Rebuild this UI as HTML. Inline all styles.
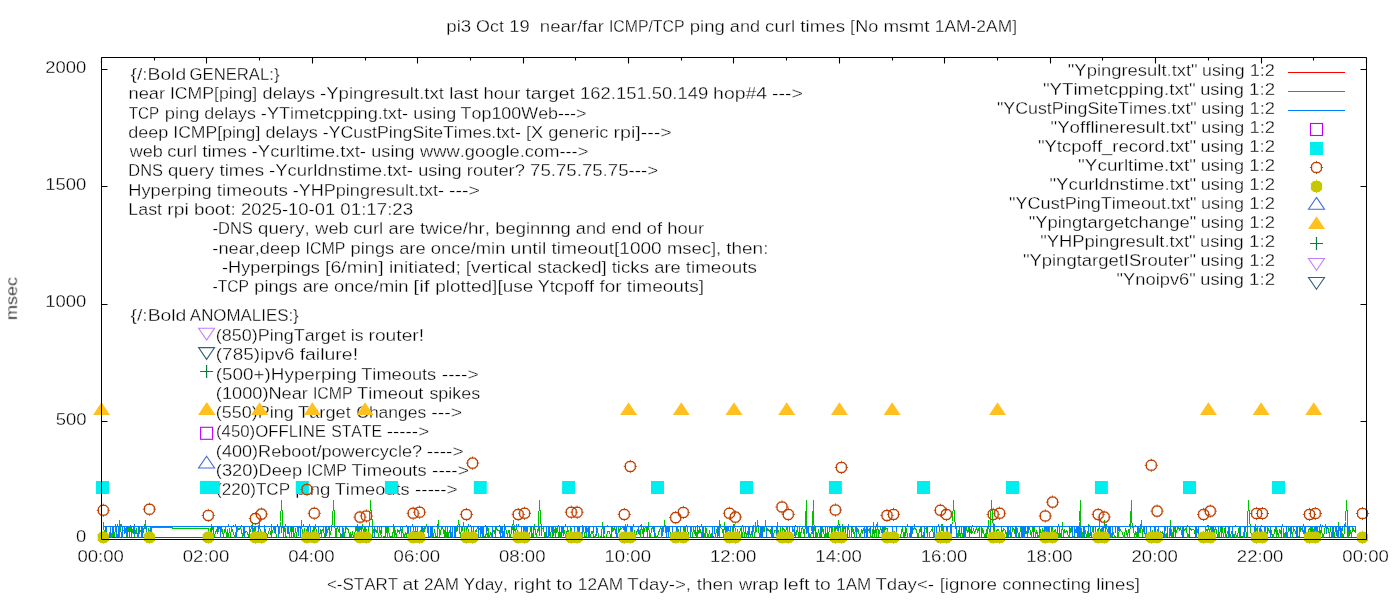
<!DOCTYPE html>
<html><head><meta charset="utf-8"><style>
html,body{margin:0;padding:0;background:#fff;width:1400px;height:600px;overflow:hidden}
svg{display:block}
text{font-family:"Liberation Sans", sans-serif;font-size:16.8px;fill:#000;stroke:#fff;stroke-width:0.3px;white-space:pre;font-kerning:none;font-variant-ligatures:none}
</style></head><body>
<svg width="1400" height="600" viewBox="0 0 1400 600">
<rect width="1400" height="600" fill="#fff"/>
<g id="texts" style="will-change:transform">
<text x="446.30" y="32.00" textLength="24.89" lengthAdjust="spacingAndGlyphs">pi3</text>
<text x="476.10" y="32.00" textLength="27.79" lengthAdjust="spacingAndGlyphs">Oct</text>
<text x="509.30" y="32.00" textLength="20.45" lengthAdjust="spacingAndGlyphs">19</text>
<text x="539.82" y="32.00" textLength="64.05" lengthAdjust="spacingAndGlyphs">near/far</text>
<text x="608.88" y="32.00" textLength="75.66" lengthAdjust="spacingAndGlyphs">ICMP/TCP</text>
<text x="689.79" y="32.00" textLength="35.05" lengthAdjust="spacingAndGlyphs">ping</text>
<text x="729.89" y="32.00" textLength="30.23" lengthAdjust="spacingAndGlyphs">and</text>
<text x="765.13" y="32.00" textLength="30.09" lengthAdjust="spacingAndGlyphs">curl</text>
<text x="800.38" y="32.00" textLength="44.68" lengthAdjust="spacingAndGlyphs">times</text>
<text x="850.12" y="32.00" textLength="28.12" lengthAdjust="spacingAndGlyphs">[No</text>
<text x="883.46" y="32.00" textLength="45.98" lengthAdjust="spacingAndGlyphs">msmt</text>
<text x="934.78" y="32.00" textLength="82.24" lengthAdjust="spacingAndGlyphs">1AM-2AM]</text>
<text x="76.08" y="542.10" textLength="10.26" lengthAdjust="spacingAndGlyphs">0</text>
<text x="55.72" y="424.76" textLength="30.79" lengthAdjust="spacingAndGlyphs">500</text>
<text x="45.32" y="307.43" textLength="41.05" lengthAdjust="spacingAndGlyphs">1000</text>
<text x="45.32" y="190.09" textLength="41.05" lengthAdjust="spacingAndGlyphs">1500</text>
<text x="45.20" y="72.76" textLength="41.05" lengthAdjust="spacingAndGlyphs">2000</text>
<text x="77.40" y="562.00" textLength="46.48" lengthAdjust="spacingAndGlyphs">00:00</text>
<text x="182.81" y="562.00" textLength="46.48" lengthAdjust="spacingAndGlyphs">02:00</text>
<text x="288.23" y="562.00" textLength="46.48" lengthAdjust="spacingAndGlyphs">04:00</text>
<text x="393.64" y="562.00" textLength="46.48" lengthAdjust="spacingAndGlyphs">06:00</text>
<text x="499.06" y="562.00" textLength="46.48" lengthAdjust="spacingAndGlyphs">08:00</text>
<text x="604.50" y="562.00" textLength="46.48" lengthAdjust="spacingAndGlyphs">10:00</text>
<text x="709.91" y="562.00" textLength="46.48" lengthAdjust="spacingAndGlyphs">12:00</text>
<text x="815.33" y="562.00" textLength="46.48" lengthAdjust="spacingAndGlyphs">14:00</text>
<text x="920.74" y="562.00" textLength="46.48" lengthAdjust="spacingAndGlyphs">16:00</text>
<text x="1026.16" y="562.00" textLength="46.48" lengthAdjust="spacingAndGlyphs">18:00</text>
<text x="1131.47" y="562.00" textLength="46.48" lengthAdjust="spacingAndGlyphs">20:00</text>
<text x="1236.88" y="562.00" textLength="46.48" lengthAdjust="spacingAndGlyphs">22:00</text>
<text x="1342.39" y="562.00" textLength="46.48" lengthAdjust="spacingAndGlyphs">00:00</text>
<text x="326.96" y="589.70" textLength="71.20" lengthAdjust="spacingAndGlyphs">&lt;-START</text>
<text x="402.55" y="589.70" textLength="16.14" lengthAdjust="spacingAndGlyphs">at</text>
<text x="423.97" y="589.70" textLength="35.06" lengthAdjust="spacingAndGlyphs">2AM</text>
<text x="463.40" y="589.70" textLength="44.45" lengthAdjust="spacingAndGlyphs">Yday,</text>
<text x="513.54" y="589.70" textLength="37.73" lengthAdjust="spacingAndGlyphs">right</text>
<text x="556.34" y="589.70" textLength="16.12" lengthAdjust="spacingAndGlyphs">to</text>
<text x="577.87" y="589.70" textLength="45.27" lengthAdjust="spacingAndGlyphs">12AM</text>
<text x="627.34" y="589.70" textLength="63.70" lengthAdjust="spacingAndGlyphs">Tday-&gt;,</text>
<text x="696.76" y="589.70" textLength="36.53" lengthAdjust="spacingAndGlyphs">then</text>
<text x="738.95" y="589.70" textLength="39.77" lengthAdjust="spacingAndGlyphs">wrap</text>
<text x="783.31" y="589.70" textLength="26.29" lengthAdjust="spacingAndGlyphs">left</text>
<text x="814.66" y="589.70" textLength="16.12" lengthAdjust="spacingAndGlyphs">to</text>
<text x="836.21" y="589.70" textLength="35.06" lengthAdjust="spacingAndGlyphs">1AM</text>
<text x="875.44" y="589.70" textLength="58.60" lengthAdjust="spacingAndGlyphs">Tday&lt;-</text>
<text x="939.65" y="589.70" textLength="57.40" lengthAdjust="spacingAndGlyphs">[ignore</text>
<text x="1002.22" y="589.70" textLength="88.85" lengthAdjust="spacingAndGlyphs">connecting</text>
<text x="1096.32" y="589.70" textLength="43.61" lengthAdjust="spacingAndGlyphs">lines]</text>
<text x="0" y="0" text-anchor="middle" textLength="42.91" lengthAdjust="spacingAndGlyphs" transform="translate(17.2,298.5) rotate(-90)">msec</text>
<text x="130.48" y="80.00" textLength="55.63" lengthAdjust="spacingAndGlyphs">{/:Bold</text>
<text x="189.52" y="80.00" textLength="90.00" lengthAdjust="spacingAndGlyphs">GENERAL:}</text>
<text x="128.48" y="99.29" textLength="36.62" lengthAdjust="spacingAndGlyphs">near</text>
<text x="169.93" y="99.29" textLength="87.34" lengthAdjust="spacingAndGlyphs">ICMP[ping]</text>
<text x="262.57" y="99.29" textLength="52.42" lengthAdjust="spacingAndGlyphs">delays</text>
<text x="319.94" y="99.29" textLength="124.03" lengthAdjust="spacingAndGlyphs">-Ypingresult.txt</text>
<text x="449.39" y="99.29" textLength="29.06" lengthAdjust="spacingAndGlyphs">last</text>
<text x="483.50" y="99.29" textLength="36.91" lengthAdjust="spacingAndGlyphs">hour</text>
<text x="525.49" y="99.29" textLength="49.27" lengthAdjust="spacingAndGlyphs">target</text>
<text x="580.11" y="99.29" textLength="128.13" lengthAdjust="spacingAndGlyphs">162.151.50.149</text>
<text x="713.11" y="99.29" textLength="54.05" lengthAdjust="spacingAndGlyphs">hop#4</text>
<text x="772.08" y="99.29" textLength="30.94" lengthAdjust="spacingAndGlyphs">---&gt;</text>
<text x="128.66" y="118.57" textLength="30.37" lengthAdjust="spacingAndGlyphs">TCP</text>
<text x="164.73" y="118.57" textLength="34.64" lengthAdjust="spacingAndGlyphs">ping</text>
<text x="204.29" y="118.57" textLength="51.68" lengthAdjust="spacingAndGlyphs">delays</text>
<text x="260.85" y="118.57" textLength="147.12" lengthAdjust="spacingAndGlyphs">-YTimetcpping.txt-</text>
<text x="413.23" y="118.57" textLength="42.90" lengthAdjust="spacingAndGlyphs">using</text>
<text x="460.55" y="118.57" textLength="125.88" lengthAdjust="spacingAndGlyphs">Top100Web---&gt;</text>
<text x="128.24" y="137.86" textLength="40.13" lengthAdjust="spacingAndGlyphs">deep</text>
<text x="173.29" y="137.86" textLength="87.00" lengthAdjust="spacingAndGlyphs">ICMP[ping]</text>
<text x="265.57" y="137.86" textLength="52.22" lengthAdjust="spacingAndGlyphs">delays</text>
<text x="322.76" y="137.86" textLength="198.06" lengthAdjust="spacingAndGlyphs">-YCustPingSiteTimes.txt-</text>
<text x="525.99" y="137.86" textLength="17.26" lengthAdjust="spacingAndGlyphs">[X</text>
<text x="548.39" y="137.86" textLength="59.99" lengthAdjust="spacingAndGlyphs">generic</text>
<text x="613.52" y="137.86" textLength="58.33" lengthAdjust="spacingAndGlyphs">rpi]---&gt;</text>
<text x="129.73" y="157.14" textLength="33.05" lengthAdjust="spacingAndGlyphs">web</text>
<text x="167.25" y="157.14" textLength="29.92" lengthAdjust="spacingAndGlyphs">curl</text>
<text x="202.31" y="157.14" textLength="44.43" lengthAdjust="spacingAndGlyphs">times</text>
<text x="251.63" y="157.14" textLength="114.39" lengthAdjust="spacingAndGlyphs">-Ycurltime.txt-</text>
<text x="371.33" y="157.14" textLength="43.17" lengthAdjust="spacingAndGlyphs">using</text>
<text x="420.09" y="157.14" textLength="168.30" lengthAdjust="spacingAndGlyphs">www.google.com---&gt;</text>
<text x="128.36" y="176.43" textLength="34.61" lengthAdjust="spacingAndGlyphs">DNS</text>
<text x="167.95" y="176.43" textLength="46.40" lengthAdjust="spacingAndGlyphs">query</text>
<text x="219.50" y="176.43" textLength="44.69" lengthAdjust="spacingAndGlyphs">times</text>
<text x="269.11" y="176.43" textLength="143.83" lengthAdjust="spacingAndGlyphs">-Ycurldnstime.txt-</text>
<text x="418.27" y="176.43" textLength="43.42" lengthAdjust="spacingAndGlyphs">using</text>
<text x="466.86" y="176.43" textLength="57.96" lengthAdjust="spacingAndGlyphs">router?</text>
<text x="530.05" y="176.43" textLength="128.01" lengthAdjust="spacingAndGlyphs">75.75.75.75---&gt;</text>
<text x="128.20" y="195.72" textLength="83.38" lengthAdjust="spacingAndGlyphs">Hyperping</text>
<text x="216.76" y="195.72" textLength="71.03" lengthAdjust="spacingAndGlyphs">timeouts</text>
<text x="292.74" y="195.72" textLength="151.36" lengthAdjust="spacingAndGlyphs">-YHPpingresult.txt-</text>
<text x="449.14" y="195.72" textLength="30.88" lengthAdjust="spacingAndGlyphs">---&gt;</text>
<text x="128.29" y="215.00" textLength="33.75" lengthAdjust="spacingAndGlyphs">Last</text>
<text x="167.25" y="215.00" textLength="21.45" lengthAdjust="spacingAndGlyphs">rpi</text>
<text x="193.91" y="215.00" textLength="41.92" lengthAdjust="spacingAndGlyphs">boot:</text>
<text x="240.99" y="215.00" textLength="94.16" lengthAdjust="spacingAndGlyphs">2025-10-01</text>
<text x="340.37" y="215.00" textLength="72.77" lengthAdjust="spacingAndGlyphs">01:17:23</text>
<text x="212.46" y="234.29" textLength="40.45" lengthAdjust="spacingAndGlyphs">-DNS</text>
<text x="258.09" y="234.29" textLength="51.57" lengthAdjust="spacingAndGlyphs">query,</text>
<text x="315.37" y="234.29" textLength="33.28" lengthAdjust="spacingAndGlyphs">web</text>
<text x="353.15" y="234.29" textLength="30.13" lengthAdjust="spacingAndGlyphs">curl</text>
<text x="388.50" y="234.29" textLength="26.38" lengthAdjust="spacingAndGlyphs">are</text>
<text x="419.95" y="234.29" textLength="70.04" lengthAdjust="spacingAndGlyphs">twice/hr,</text>
<text x="495.24" y="234.29" textLength="75.61" lengthAdjust="spacingAndGlyphs">beginnng</text>
<text x="575.89" y="234.29" textLength="30.28" lengthAdjust="spacingAndGlyphs">and</text>
<text x="611.20" y="234.29" textLength="30.32" lengthAdjust="spacingAndGlyphs">end</text>
<text x="646.62" y="234.29" textLength="15.51" lengthAdjust="spacingAndGlyphs">of</text>
<text x="667.32" y="234.29" textLength="36.86" lengthAdjust="spacingAndGlyphs">hour</text>
<text x="212.39" y="253.57" textLength="87.95" lengthAdjust="spacingAndGlyphs">-near,deep</text>
<text x="305.61" y="253.57" textLength="39.67" lengthAdjust="spacingAndGlyphs">ICMP</text>
<text x="350.58" y="253.57" textLength="43.59" lengthAdjust="spacingAndGlyphs">pings</text>
<text x="399.20" y="253.57" textLength="26.44" lengthAdjust="spacingAndGlyphs">are</text>
<text x="430.70" y="253.57" textLength="74.75" lengthAdjust="spacingAndGlyphs">once/min</text>
<text x="510.57" y="253.57" textLength="35.74" lengthAdjust="spacingAndGlyphs">until</text>
<text x="551.48" y="253.57" textLength="110.22" lengthAdjust="spacingAndGlyphs">timeout[1000</text>
<text x="666.92" y="253.57" textLength="54.34" lengthAdjust="spacingAndGlyphs">msec],</text>
<text x="726.29" y="253.57" textLength="42.14" lengthAdjust="spacingAndGlyphs">then:</text>
<text x="222.09" y="272.86" textLength="97.80" lengthAdjust="spacingAndGlyphs">-Hyperpings</text>
<text x="325.03" y="272.86" textLength="58.65" lengthAdjust="spacingAndGlyphs">[6/min]</text>
<text x="389.04" y="272.86" textLength="71.74" lengthAdjust="spacingAndGlyphs">initiated;</text>
<text x="465.69" y="272.86" textLength="66.38" lengthAdjust="spacingAndGlyphs">[vertical</text>
<text x="537.54" y="272.86" textLength="69.22" lengthAdjust="spacingAndGlyphs">stacked]</text>
<text x="611.68" y="272.86" textLength="37.39" lengthAdjust="spacingAndGlyphs">ticks</text>
<text x="654.23" y="272.86" textLength="26.42" lengthAdjust="spacingAndGlyphs">are</text>
<text x="685.73" y="272.86" textLength="71.21" lengthAdjust="spacingAndGlyphs">timeouts</text>
<text x="212.50" y="292.15" textLength="36.50" lengthAdjust="spacingAndGlyphs">-TCP</text>
<text x="254.31" y="292.15" textLength="43.39" lengthAdjust="spacingAndGlyphs">pings</text>
<text x="302.70" y="292.15" textLength="26.32" lengthAdjust="spacingAndGlyphs">are</text>
<text x="334.06" y="292.15" textLength="74.40" lengthAdjust="spacingAndGlyphs">once/min</text>
<text x="413.32" y="292.15" textLength="16.38" lengthAdjust="spacingAndGlyphs">[if</text>
<text x="435.16" y="292.15" textLength="98.10" lengthAdjust="spacingAndGlyphs">plotted][use</text>
<text x="537.70" y="292.15" textLength="56.26" lengthAdjust="spacingAndGlyphs">Ytcpoff</text>
<text x="599.59" y="292.15" textLength="22.08" lengthAdjust="spacingAndGlyphs">for</text>
<text x="626.82" y="292.15" textLength="77.21" lengthAdjust="spacingAndGlyphs">timeouts]</text>
<text x="130.48" y="321.00" textLength="55.91" lengthAdjust="spacingAndGlyphs">{/:Bold</text>
<text x="189.86" y="321.00" textLength="108.91" lengthAdjust="spacingAndGlyphs">ANOMALIES:}</text>
<text x="215.89" y="341.00" textLength="129.76" lengthAdjust="spacingAndGlyphs">(850)PingTarget</text>
<text x="350.80" y="341.00" textLength="12.77" lengthAdjust="spacingAndGlyphs">is</text>
<text x="368.50" y="341.00" textLength="55.58" lengthAdjust="spacingAndGlyphs">router!</text>
<text x="215.83" y="360.25" textLength="78.77" lengthAdjust="spacingAndGlyphs">(785)ipv6</text>
<text x="299.65" y="360.25" textLength="58.41" lengthAdjust="spacingAndGlyphs">failure!</text>
<text x="215.83" y="379.50" textLength="140.93" lengthAdjust="spacingAndGlyphs">(500+)Hyperping</text>
<text x="361.22" y="379.50" textLength="75.00" lengthAdjust="spacingAndGlyphs">Timeouts</text>
<text x="441.75" y="379.50" textLength="36.90" lengthAdjust="spacingAndGlyphs">----&gt;</text>
<text x="215.87" y="398.75" textLength="92.07" lengthAdjust="spacingAndGlyphs">(1000)Near</text>
<text x="312.93" y="398.75" textLength="39.63" lengthAdjust="spacingAndGlyphs">ICMP</text>
<text x="357.11" y="398.75" textLength="66.34" lengthAdjust="spacingAndGlyphs">Timeout</text>
<text x="429.41" y="398.75" textLength="50.76" lengthAdjust="spacingAndGlyphs">spikes</text>
<text x="215.89" y="418.00" textLength="77.78" lengthAdjust="spacingAndGlyphs">(550)Ping</text>
<text x="298.05" y="418.00" textLength="52.68" lengthAdjust="spacingAndGlyphs">Target</text>
<text x="356.31" y="418.00" textLength="69.92" lengthAdjust="spacingAndGlyphs">Changes</text>
<text x="431.25" y="418.00" textLength="30.87" lengthAdjust="spacingAndGlyphs">---&gt;</text>
<text x="215.96" y="437.25" textLength="110.07" lengthAdjust="spacingAndGlyphs">(450)OFFLINE</text>
<text x="331.13" y="437.25" textLength="50.91" lengthAdjust="spacingAndGlyphs">STATE</text>
<text x="386.75" y="437.25" textLength="42.40" lengthAdjust="spacingAndGlyphs">-----&gt;</text>
<text x="215.88" y="456.50" textLength="206.20" lengthAdjust="spacingAndGlyphs">(400)Reboot/powercycle?</text>
<text x="426.87" y="456.50" textLength="36.77" lengthAdjust="spacingAndGlyphs">----&gt;</text>
<text x="215.87" y="475.75" textLength="86.22" lengthAdjust="spacingAndGlyphs">(320)Deep</text>
<text x="307.09" y="475.75" textLength="39.82" lengthAdjust="spacingAndGlyphs">ICMP</text>
<text x="351.48" y="475.75" textLength="75.09" lengthAdjust="spacingAndGlyphs">Timeouts</text>
<text x="432.11" y="475.75" textLength="36.94" lengthAdjust="spacingAndGlyphs">----&gt;</text>
<text x="215.94" y="495.00" textLength="74.19" lengthAdjust="spacingAndGlyphs">(220)TCP</text>
<text x="295.19" y="495.00" textLength="35.17" lengthAdjust="spacingAndGlyphs">ping</text>
<text x="334.77" y="495.00" textLength="74.76" lengthAdjust="spacingAndGlyphs">Timeouts</text>
<text x="415.05" y="495.00" textLength="42.60" lengthAdjust="spacingAndGlyphs">-----&gt;</text>
<text x="1067.82" y="76.00" textLength="129.82" lengthAdjust="spacingAndGlyphs">&quot;Ypingresult.txt&quot;</text>
<text x="1202.09" y="76.00" textLength="42.47" lengthAdjust="spacingAndGlyphs">using</text>
<text x="1249.71" y="76.00" textLength="25.30" lengthAdjust="spacingAndGlyphs">1:2</text>
<text x="1042.90" y="95.00" textLength="152.72" lengthAdjust="spacingAndGlyphs">&quot;YTimetcpping.txt&quot;</text>
<text x="1200.19" y="95.00" textLength="43.61" lengthAdjust="spacingAndGlyphs">using</text>
<text x="1249.09" y="95.00" textLength="25.98" lengthAdjust="spacingAndGlyphs">1:2</text>
<text x="996.94" y="114.00" textLength="199.73" lengthAdjust="spacingAndGlyphs">&quot;YCustPingSiteTimes.txt&quot;</text>
<text x="1201.15" y="114.00" textLength="43.03" lengthAdjust="spacingAndGlyphs">using</text>
<text x="1249.40" y="114.00" textLength="25.64" lengthAdjust="spacingAndGlyphs">1:2</text>
<text x="1050.51" y="133.00" textLength="146.26" lengthAdjust="spacingAndGlyphs">&quot;Yofflineresult.txt&quot;</text>
<text x="1201.27" y="133.00" textLength="42.96" lengthAdjust="spacingAndGlyphs">using</text>
<text x="1249.44" y="133.00" textLength="25.60" lengthAdjust="spacingAndGlyphs">1:2</text>
<text x="1037.91" y="152.00" textLength="158.15" lengthAdjust="spacingAndGlyphs">&quot;Ytcpoff_record.txt&quot;</text>
<text x="1200.59" y="152.00" textLength="43.36" lengthAdjust="spacingAndGlyphs">using</text>
<text x="1249.22" y="152.00" textLength="25.84" lengthAdjust="spacingAndGlyphs">1:2</text>
<text x="1078.09" y="171.00" textLength="118.01" lengthAdjust="spacingAndGlyphs">&quot;Ycurltime.txt&quot;</text>
<text x="1200.65" y="171.00" textLength="43.33" lengthAdjust="spacingAndGlyphs">using</text>
<text x="1249.24" y="171.00" textLength="25.82" lengthAdjust="spacingAndGlyphs">1:2</text>
<text x="1049.40" y="190.00" textLength="146.71" lengthAdjust="spacingAndGlyphs">&quot;Ycurldnstime.txt&quot;</text>
<text x="1200.65" y="190.00" textLength="43.33" lengthAdjust="spacingAndGlyphs">using</text>
<text x="1249.24" y="190.00" textLength="25.82" lengthAdjust="spacingAndGlyphs">1:2</text>
<text x="1009.13" y="209.00" textLength="187.36" lengthAdjust="spacingAndGlyphs">&quot;YCustPingTimeout.txt&quot;</text>
<text x="1200.99" y="209.00" textLength="43.13" lengthAdjust="spacingAndGlyphs">using</text>
<text x="1249.35" y="209.00" textLength="25.70" lengthAdjust="spacingAndGlyphs">1:2</text>
<text x="1028.72" y="228.00" textLength="167.48" lengthAdjust="spacingAndGlyphs">&quot;Ypingtargetchange&quot;</text>
<text x="1200.71" y="228.00" textLength="43.29" lengthAdjust="spacingAndGlyphs">using</text>
<text x="1249.26" y="228.00" textLength="25.79" lengthAdjust="spacingAndGlyphs">1:2</text>
<text x="1040.22" y="247.00" textLength="155.34" lengthAdjust="spacingAndGlyphs">&quot;YHPpingresult.txt&quot;</text>
<text x="1200.11" y="247.00" textLength="43.65" lengthAdjust="spacingAndGlyphs">using</text>
<text x="1249.06" y="247.00" textLength="26.01" lengthAdjust="spacingAndGlyphs">1:2</text>
<text x="1022.92" y="266.00" textLength="173.09" lengthAdjust="spacingAndGlyphs">&quot;YpingtargetISrouter&quot;</text>
<text x="1200.54" y="266.00" textLength="43.39" lengthAdjust="spacingAndGlyphs">using</text>
<text x="1249.20" y="266.00" textLength="25.85" lengthAdjust="spacingAndGlyphs">1:2</text>
<text x="1116.52" y="285.00" textLength="79.25" lengthAdjust="spacingAndGlyphs">&quot;Ynoipv6&quot;</text>
<text x="1200.31" y="285.00" textLength="43.53" lengthAdjust="spacingAndGlyphs">using</text>
<text x="1249.12" y="285.00" textLength="25.94" lengthAdjust="spacingAndGlyphs">1:2</text>
</g>
<g id="legend">
<path d="M1288 72.5H1345" stroke="#ff0000" stroke-width="1"/>
<path d="M1288 91.5H1345" stroke="#00c000" stroke-width="1"/>
<path d="M1288 110.5H1345" stroke="#0080ff" stroke-width="1"/>
<rect x="1310.50" y="123.50" width="12" height="12" fill="none" stroke="#c000ff" stroke-width="1.1"/>
<rect x="1310.00" y="142.00" width="13" height="13" fill="#00eeee"/>
<polygon points="1314.10,162.60 1318.90,162.60 1321.40,165.10 1321.40,169.90 1318.90,172.40 1314.10,172.40 1311.60,169.90 1311.60,165.10" fill="none" stroke="#c04000" stroke-width="1.25"/><path d="M1316.50 160.90v1.6M1316.50 172.50v1.6M1309.90 167.50h1.6M1321.50 167.50h1.6" stroke="#c04000" stroke-width="1"/>
<polygon points="1313.60,180.90 1319.40,180.90 1322.10,183.60 1322.10,189.40 1319.40,192.10 1313.60,192.10 1310.90,189.40 1310.90,183.60" fill="#c8c800"/><path d="M1316.50 179.90v1.4M1316.50 191.70v1.4" stroke="#c8c800" stroke-width="1"/>
<polygon points="1316.50,197.40 1324.50,209.20 1308.50,209.20" fill="none" stroke="#4169e1" stroke-width="1.1"/>
<polygon points="1316.50,216.20 1325.00,229.00 1308.00,229.00" fill="#ffc020"/>
<path d="M1310.00 243.50h13M1316.50 237.00v13" stroke="#008040" stroke-width="1.2"/>
<polygon points="1316.50,270.30 1324.50,258.50 1308.50,258.50" fill="none" stroke="#c080ff" stroke-width="1.1"/>
<polygon points="1316.50,289.30 1324.50,277.50 1308.50,277.50" fill="none" stroke="#306080" stroke-width="1.1"/>
<polygon points="206.60,340.10 214.60,328.30 198.60,328.30" fill="none" stroke="#c080ff" stroke-width="1.1"/>
<polygon points="206.60,359.40 214.60,347.60 198.60,347.60" fill="none" stroke="#306080" stroke-width="1.1"/>
<path d="M200.10 371.50h13M206.60 365.00v13" stroke="#008040" stroke-width="1.2"/>
<polygon points="206.60,402.20 215.10,415.00 198.10,415.00" fill="#ffc020"/>
<rect x="200.60" y="427.30" width="12" height="12" fill="none" stroke="#c000ff" stroke-width="1.1"/>
<polygon points="206.60,456.20 214.60,468.00 198.60,468.00" fill="none" stroke="#4169e1" stroke-width="1.1"/>
<rect x="200.10" y="480.90" width="13" height="13" fill="#00eeee"/>
</g>
<g id="ticks">
<path d="M101.5 538.5h6M1366.5 538.5h-6M101.5 421.5h6M1366.5 421.5h-6M101.5 304.5h6M1366.5 304.5h-6M101.5 186.5h6M1366.5 186.5h-6M101.5 69.5h6M1366.5 69.5h-6M101.5 57.5v6M101.5 539.5v-6M154.5 57.5v3M154.5 539.5v-3M206.5 57.5v6M206.5 539.5v-6M259.5 57.5v3M259.5 539.5v-3M312.5 57.5v6M312.5 539.5v-6M365.5 57.5v3M365.5 539.5v-3M417.5 57.5v6M417.5 539.5v-6M470.5 57.5v3M470.5 539.5v-3M523.5 57.5v6M523.5 539.5v-6M575.5 57.5v3M575.5 539.5v-3M628.5 57.5v6M628.5 539.5v-6M681.5 57.5v3M681.5 539.5v-3M733.5 57.5v6M733.5 539.5v-6M786.5 57.5v3M786.5 539.5v-3M839.5 57.5v6M839.5 539.5v-6M892.5 57.5v3M892.5 539.5v-3M944.5 57.5v6M944.5 539.5v-6M997.5 57.5v3M997.5 539.5v-3M1050.5 57.5v6M1050.5 539.5v-6M1102.5 57.5v3M1102.5 539.5v-3M1155.5 57.5v6M1155.5 539.5v-6M1208.5 57.5v3M1208.5 539.5v-3M1261.5 57.5v6M1261.5 539.5v-6M1313.5 57.5v3M1313.5 539.5v-3M1366.5 57.5v6M1366.5 539.5v-6" stroke="#000" stroke-width="1.1" fill="none"/>
</g>
<g id="data">
<path d="M104.1 537.5H1358.6" stroke="#ff0000" stroke-width="1" fill="none" shape-rendering="crispEdges"/>
<polyline points="103.5,522.5 104.5,536.5 105.5,530.5 105.5,528.5 106.5,536.5 107.5,537.5 108.5,536.5 109.5,536.5 110.5,527.5 111.5,537.5 112.5,536.5 112.5,531.5 113.5,530.5 114.5,536.5 115.5,527.5 116.5,532.5 117.5,536.5 118.5,536.5 119.5,537.5 119.5,520.5 120.5,527.5 121.5,536.5 122.5,529.5 123.5,530.5 124.5,531.5 125.5,529.5 126.5,536.5 126.5,527.5 127.5,536.5 128.5,527.5 129.5,530.5 130.5,527.5 131.5,536.5 132.5,529.5 133.5,530.5 134.5,527.5 134.5,536.5 135.5,531.5 136.5,529.5 137.5,537.5 138.5,528.5 139.5,532.5 140.5,530.5 141.5,529.5 141.5,536.5 142.5,536.5 143.5,529.5 144.5,527.5 145.5,520.5 146.5,537.5 147.5,536.5 148.5,536.5 148.5,528.5 149.5,531.5 150.5,537.5 151.5,527.5 172.5,527.5 172.5,528.5 207.5,528.5 208.5,528.5 209.5,536.5 210.5,532.5 211.5,524.5 212.5,527.5 213.5,531.5 213.5,536.5 214.5,536.5 215.5,532.5 216.5,530.5 217.5,527.5 218.5,530.5 219.5,527.5 220.5,530.5 220.5,537.5 221.5,527.5 222.5,531.5 223.5,536.5 224.5,530.5 225.5,527.5 226.5,536.5 227.5,537.5 227.5,529.5 228.5,537.5 229.5,528.5 230.5,536.5 231.5,527.5 232.5,531.5 233.5,532.5 234.5,537.5 235.5,532.5 235.5,536.5 236.5,536.5 237.5,527.5 238.5,529.5 239.5,529.5 240.5,527.5 241.5,530.5 242.5,536.5 242.5,536.5 243.5,529.5 244.5,530.5 245.5,532.5 246.5,531.5 247.5,532.5 248.5,536.5 249.5,536.5 249.5,532.5 250.5,531.5 251.5,527.5 252.5,522.5 253.5,532.5 254.5,527.5 255.5,536.5 256.5,536.5 256.5,537.5 257.5,531.5 258.5,530.5 259.5,520.5 260.5,536.5 261.5,532.5 262.5,537.5 263.5,536.5 264.5,530.5 264.5,536.5 265.5,529.5 266.5,536.5 267.5,536.5 268.5,532.5 269.5,529.5 270.5,532.5 271.5,536.5 271.5,527.5 272.5,532.5 273.5,527.5 274.5,528.5 275.5,531.5 276.5,536.5 277.5,537.5 278.5,536.5 278.5,536.5 279.5,532.5 280.5,521.5 281.5,500.5 282.5,518.5 283.5,536.5 284.5,527.5 285.5,529.5 285.5,536.5 286.5,536.5 287.5,537.5 288.5,537.5 289.5,536.5 290.5,527.5 291.5,536.5 292.5,527.5 293.5,536.5 293.5,531.5 294.5,537.5 295.5,528.5 296.5,536.5 297.5,527.5 298.5,528.5 299.5,527.5 300.5,527.5 300.5,536.5 301.5,520.5 302.5,537.5 303.5,536.5 304.5,528.5 305.5,537.5 306.5,531.5 307.5,527.5 307.5,536.5 308.5,536.5 309.5,536.5 310.5,529.5 311.5,537.5 312.5,530.5 313.5,529.5 314.5,536.5 314.5,528.5 315.5,524.5 316.5,532.5 317.5,536.5 318.5,536.5 319.5,537.5 320.5,529.5 321.5,537.5 321.5,530.5 322.5,530.5 323.5,528.5 324.5,536.5 325.5,536.5 326.5,528.5 327.5,531.5 328.5,527.5 329.5,532.5 329.5,536.5 330.5,532.5 331.5,529.5 332.5,521.5 333.5,500.5 334.5,518.5 335.5,536.5 336.5,536.5 336.5,528.5 337.5,527.5 338.5,530.5 339.5,528.5 340.5,536.5 341.5,536.5 342.5,531.5 343.5,536.5 343.5,528.5 344.5,536.5 345.5,527.5 346.5,527.5 347.5,529.5 348.5,529.5 349.5,536.5 350.5,532.5 350.5,536.5 351.5,537.5 352.5,531.5 353.5,537.5 354.5,536.5 355.5,527.5 356.5,530.5 357.5,524.5 358.5,536.5 358.5,536.5 359.5,532.5 360.5,527.5 361.5,527.5 362.5,524.5 363.5,532.5 364.5,527.5 365.5,536.5 365.5,536.5 366.5,529.5 367.5,537.5 368.5,532.5 369.5,521.5 370.5,500.5 371.5,518.5 372.5,520.5 372.5,536.5 373.5,530.5 374.5,527.5 375.5,531.5 376.5,532.5 377.5,527.5 378.5,537.5 379.5,528.5 379.5,527.5 380.5,531.5 381.5,537.5 382.5,537.5 383.5,536.5 384.5,536.5 385.5,536.5 386.5,527.5 387.5,537.5 387.5,529.5 388.5,527.5 389.5,537.5 390.5,536.5 391.5,536.5 392.5,536.5 393.5,527.5 394.5,537.5 394.5,527.5 395.5,532.5 396.5,536.5 397.5,529.5 398.5,530.5 399.5,532.5 400.5,527.5 401.5,530.5 401.5,536.5 402.5,527.5 403.5,537.5 404.5,536.5 405.5,532.5 406.5,536.5 407.5,530.5 408.5,536.5 408.5,536.5 409.5,536.5 410.5,536.5 411.5,536.5 412.5,531.5 413.5,530.5 414.5,532.5 415.5,529.5 415.5,536.5 416.5,531.5 417.5,536.5 418.5,536.5 419.5,536.5 420.5,530.5 421.5,536.5 422.5,531.5 423.5,528.5 423.5,536.5 424.5,527.5 425.5,528.5 426.5,524.5 427.5,529.5 428.5,536.5 429.5,536.5 430.5,536.5 430.5,527.5 431.5,532.5 432.5,536.5 433.5,536.5 434.5,529.5 435.5,536.5 436.5,536.5 437.5,536.5 437.5,531.5 438.5,520.5 439.5,536.5 440.5,532.5 441.5,527.5 442.5,527.5 443.5,530.5 444.5,536.5 444.5,531.5 445.5,529.5 446.5,537.5 447.5,527.5 448.5,536.5 449.5,530.5 450.5,531.5 451.5,536.5 452.5,528.5 452.5,536.5 453.5,537.5 454.5,536.5 455.5,536.5 456.5,527.5 457.5,530.5 458.5,520.5 459.5,527.5 459.5,531.5 460.5,536.5 461.5,527.5 462.5,530.5 463.5,522.5 464.5,529.5 465.5,537.5 466.5,527.5 466.5,530.5 467.5,527.5 468.5,530.5 469.5,536.5 470.5,536.5 471.5,532.5 472.5,531.5 473.5,531.5 473.5,527.5 474.5,536.5 475.5,530.5 476.5,531.5 477.5,527.5 478.5,530.5 479.5,528.5 480.5,527.5 480.5,537.5 481.5,528.5 482.5,529.5 483.5,536.5 484.5,536.5 485.5,536.5 486.5,531.5 487.5,537.5 488.5,528.5 488.5,536.5 489.5,537.5 490.5,532.5 491.5,537.5 492.5,528.5 493.5,531.5 494.5,530.5 495.5,536.5 495.5,531.5 496.5,527.5 497.5,530.5 498.5,530.5 499.5,530.5 500.5,536.5 501.5,536.5 502.5,536.5 502.5,536.5 503.5,537.5 504.5,524.5 505.5,529.5 506.5,530.5 507.5,536.5 508.5,530.5 509.5,530.5 509.5,536.5 510.5,536.5 511.5,532.5 512.5,527.5 513.5,520.5 514.5,529.5 515.5,531.5 516.5,527.5 517.5,532.5 517.5,536.5 518.5,536.5 519.5,536.5 520.5,536.5 521.5,529.5 522.5,537.5 523.5,531.5 524.5,532.5 524.5,536.5 525.5,527.5 526.5,536.5 527.5,529.5 528.5,536.5 529.5,536.5 530.5,527.5 531.5,529.5 531.5,528.5 532.5,536.5 533.5,536.5 534.5,524.5 535.5,532.5 536.5,537.5 537.5,529.5 538.5,530.5 538.5,521.5 539.5,500.5 540.5,518.5 541.5,529.5 542.5,528.5 543.5,527.5 544.5,536.5 545.5,536.5 546.5,527.5 546.5,536.5 547.5,536.5 548.5,537.5 549.5,532.5 550.5,537.5 551.5,527.5 552.5,536.5 553.5,530.5 553.5,530.5 554.5,529.5 555.5,536.5 556.5,529.5 557.5,527.5 558.5,536.5 559.5,537.5 560.5,536.5 560.5,532.5 561.5,537.5 562.5,529.5 563.5,529.5 564.5,531.5 565.5,536.5 566.5,531.5 567.5,531.5 567.5,527.5 568.5,532.5 569.5,536.5 570.5,527.5 571.5,529.5 572.5,537.5 573.5,536.5 574.5,528.5 574.5,531.5 575.5,537.5 576.5,537.5 577.5,536.5 578.5,529.5 579.5,537.5 580.5,536.5 581.5,537.5 582.5,527.5 582.5,528.5 583.5,527.5 584.5,536.5 585.5,536.5 586.5,536.5 587.5,528.5 588.5,531.5 589.5,536.5 589.5,530.5 590.5,537.5 591.5,531.5 592.5,531.5 593.5,536.5 594.5,536.5 595.5,537.5 596.5,531.5 596.5,532.5 597.5,528.5 598.5,536.5 599.5,537.5 600.5,536.5 601.5,536.5 602.5,522.5 603.5,531.5 603.5,536.5 604.5,536.5 605.5,537.5 606.5,536.5 607.5,531.5 608.5,531.5 609.5,531.5 610.5,536.5 611.5,532.5 611.5,536.5 612.5,527.5 613.5,529.5 614.5,527.5 615.5,531.5 616.5,536.5 617.5,536.5 618.5,529.5 618.5,527.5 619.5,531.5 620.5,527.5 621.5,528.5 622.5,527.5 623.5,527.5 624.5,532.5 625.5,529.5 625.5,524.5 626.5,536.5 627.5,536.5 628.5,532.5 629.5,532.5 630.5,531.5 631.5,530.5 632.5,527.5 632.5,530.5 633.5,536.5 634.5,530.5 635.5,536.5 636.5,532.5 637.5,530.5 638.5,528.5 639.5,531.5 640.5,537.5 640.5,531.5 641.5,527.5 642.5,531.5 643.5,536.5 644.5,528.5 645.5,527.5 646.5,527.5 647.5,536.5 647.5,532.5 648.5,522.5 649.5,536.5 650.5,536.5 651.5,529.5 652.5,527.5 653.5,527.5 654.5,536.5 654.5,529.5 655.5,536.5 656.5,536.5 657.5,537.5 658.5,532.5 659.5,530.5 660.5,527.5 661.5,528.5 661.5,537.5 662.5,528.5 663.5,531.5 664.5,520.5 665.5,529.5 666.5,536.5 667.5,527.5 668.5,528.5 668.5,537.5 669.5,527.5 670.5,536.5 671.5,536.5 672.5,532.5 673.5,532.5 674.5,532.5 675.5,536.5 676.5,528.5 676.5,536.5 677.5,527.5 678.5,531.5 679.5,536.5 680.5,528.5 681.5,536.5 682.5,537.5 683.5,536.5 683.5,536.5 684.5,527.5 685.5,527.5 686.5,536.5 687.5,527.5 688.5,536.5 689.5,537.5 690.5,537.5 690.5,537.5 691.5,527.5 692.5,536.5 693.5,527.5 694.5,532.5 695.5,529.5 696.5,536.5 697.5,528.5 697.5,537.5 698.5,530.5 699.5,530.5 700.5,529.5 701.5,536.5 702.5,527.5 703.5,527.5 704.5,537.5 705.5,536.5 705.5,527.5 706.5,528.5 707.5,536.5 708.5,537.5 709.5,530.5 710.5,536.5 711.5,536.5 712.5,530.5 712.5,536.5 713.5,536.5 714.5,537.5 715.5,537.5 716.5,529.5 717.5,536.5 718.5,530.5 719.5,536.5 719.5,520.5 720.5,527.5 721.5,528.5 722.5,529.5 723.5,536.5 724.5,522.5 725.5,536.5 726.5,529.5 726.5,536.5 727.5,527.5 728.5,536.5 729.5,530.5 730.5,530.5 731.5,536.5 732.5,527.5 733.5,537.5 733.5,530.5 734.5,524.5 735.5,531.5 736.5,536.5 737.5,529.5 738.5,537.5 739.5,532.5 740.5,529.5 741.5,527.5 741.5,536.5 742.5,536.5 743.5,527.5 744.5,536.5 745.5,527.5 746.5,537.5 747.5,532.5 748.5,529.5 748.5,527.5 749.5,532.5 750.5,537.5 751.5,531.5 752.5,537.5 753.5,527.5 754.5,536.5 755.5,529.5 755.5,522.5 756.5,531.5 757.5,520.5 758.5,528.5 759.5,536.5 760.5,532.5 761.5,536.5 762.5,536.5 762.5,537.5 763.5,527.5 764.5,531.5 765.5,520.5 766.5,532.5 767.5,528.5 768.5,529.5 769.5,531.5 770.5,531.5 770.5,529.5 771.5,537.5 772.5,536.5 773.5,536.5 774.5,530.5 775.5,530.5 776.5,531.5 777.5,537.5 777.5,522.5 778.5,537.5 779.5,537.5 780.5,527.5 781.5,537.5 782.5,527.5 783.5,528.5 784.5,531.5 784.5,529.5 785.5,532.5 786.5,527.5 787.5,527.5 788.5,537.5 789.5,537.5 790.5,532.5 791.5,532.5 791.5,536.5 792.5,528.5 793.5,530.5 794.5,527.5 795.5,536.5 796.5,532.5 797.5,527.5 798.5,536.5 799.5,536.5 799.5,527.5 800.5,536.5 801.5,529.5 802.5,527.5 803.5,530.5 804.5,536.5 805.5,521.5 806.5,500.5 806.5,518.5 807.5,532.5 808.5,529.5 809.5,536.5 810.5,536.5 811.5,531.5 812.5,521.5 813.5,500.5 813.5,518.5 814.5,530.5 815.5,527.5 816.5,536.5 817.5,537.5 818.5,529.5 819.5,536.5 820.5,536.5 820.5,527.5 821.5,536.5 822.5,527.5 823.5,530.5 824.5,536.5 825.5,536.5 826.5,537.5 827.5,529.5 827.5,530.5 828.5,536.5 829.5,527.5 830.5,527.5 831.5,527.5 832.5,527.5 833.5,536.5 834.5,527.5 835.5,530.5 835.5,527.5 836.5,527.5 837.5,529.5 838.5,520.5 839.5,527.5 840.5,527.5 841.5,536.5 842.5,537.5 842.5,524.5 843.5,527.5 844.5,527.5 845.5,529.5 846.5,537.5 847.5,531.5 848.5,527.5 849.5,532.5 849.5,537.5 850.5,537.5 851.5,536.5 852.5,528.5 853.5,530.5 854.5,537.5 855.5,527.5 856.5,528.5 856.5,536.5 857.5,528.5 858.5,529.5 859.5,537.5 860.5,537.5 861.5,529.5 862.5,532.5 863.5,528.5 864.5,532.5 864.5,529.5 865.5,531.5 866.5,527.5 867.5,532.5 868.5,529.5 869.5,528.5 870.5,537.5 871.5,537.5 871.5,536.5 872.5,536.5 873.5,522.5 874.5,537.5 875.5,528.5 876.5,536.5 877.5,522.5 878.5,536.5 878.5,529.5 879.5,532.5 880.5,527.5 881.5,531.5 882.5,529.5 883.5,536.5 884.5,527.5 885.5,529.5 885.5,527.5 886.5,528.5 887.5,528.5 888.5,536.5 889.5,536.5 890.5,536.5 891.5,536.5 892.5,527.5 892.5,536.5 893.5,536.5 894.5,531.5 895.5,536.5 896.5,537.5 897.5,537.5 898.5,536.5 899.5,537.5 900.5,536.5 900.5,536.5 901.5,531.5 902.5,527.5 903.5,536.5 904.5,536.5 905.5,528.5 906.5,528.5 907.5,537.5 907.5,537.5 908.5,537.5 909.5,537.5 910.5,529.5 911.5,536.5 912.5,527.5 913.5,529.5 914.5,528.5 914.5,527.5 915.5,529.5 916.5,529.5 917.5,536.5 918.5,536.5 919.5,530.5 920.5,527.5 921.5,536.5 921.5,531.5 922.5,537.5 923.5,536.5 924.5,527.5 925.5,528.5 926.5,527.5 927.5,537.5 928.5,537.5 929.5,537.5 929.5,532.5 930.5,531.5 931.5,530.5 932.5,527.5 933.5,536.5 934.5,537.5 935.5,536.5 936.5,532.5 936.5,529.5 937.5,536.5 938.5,537.5 939.5,529.5 940.5,532.5 941.5,529.5 942.5,524.5 943.5,537.5 943.5,527.5 944.5,536.5 945.5,537.5 946.5,532.5 947.5,537.5 948.5,532.5 949.5,537.5 950.5,529.5 950.5,537.5 951.5,527.5 952.5,521.5 953.5,500.5 954.5,518.5 955.5,524.5 956.5,532.5 957.5,536.5 958.5,530.5 958.5,537.5 959.5,537.5 960.5,536.5 961.5,529.5 962.5,536.5 963.5,532.5 964.5,531.5 965.5,537.5 965.5,530.5 966.5,528.5 967.5,532.5 968.5,527.5 969.5,536.5 970.5,529.5 971.5,532.5 972.5,531.5 972.5,532.5 973.5,529.5 974.5,532.5 975.5,530.5 976.5,527.5 977.5,531.5 978.5,529.5 979.5,527.5 979.5,536.5 980.5,537.5 981.5,536.5 982.5,529.5 983.5,531.5 984.5,536.5 985.5,536.5 986.5,529.5 986.5,536.5 987.5,531.5 988.5,520.5 989.5,537.5 990.5,521.5 991.5,500.5 992.5,518.5 993.5,527.5 994.5,527.5 994.5,528.5 995.5,536.5 996.5,531.5 997.5,529.5 998.5,529.5 999.5,532.5 1000.5,537.5 1001.5,531.5 1001.5,537.5 1002.5,532.5 1003.5,528.5 1004.5,529.5 1005.5,530.5 1006.5,536.5 1007.5,528.5 1008.5,528.5 1008.5,527.5 1009.5,532.5 1010.5,536.5 1011.5,537.5 1012.5,527.5 1013.5,529.5 1014.5,529.5 1015.5,537.5 1015.5,536.5 1016.5,536.5 1017.5,528.5 1018.5,536.5 1019.5,536.5 1020.5,527.5 1021.5,536.5 1022.5,536.5 1023.5,537.5 1023.5,536.5 1024.5,536.5 1025.5,532.5 1026.5,531.5 1027.5,536.5 1028.5,527.5 1029.5,527.5 1030.5,532.5 1030.5,531.5 1031.5,537.5 1032.5,527.5 1033.5,536.5 1034.5,527.5 1035.5,536.5 1036.5,530.5 1037.5,536.5 1037.5,532.5 1038.5,537.5 1039.5,532.5 1040.5,529.5 1041.5,536.5 1042.5,528.5 1043.5,532.5 1044.5,527.5 1044.5,531.5 1045.5,527.5 1046.5,536.5 1047.5,527.5 1048.5,527.5 1049.5,527.5 1050.5,537.5 1051.5,536.5 1052.5,527.5 1052.5,532.5 1053.5,532.5 1054.5,530.5 1055.5,529.5 1056.5,536.5 1057.5,528.5 1058.5,536.5 1059.5,537.5 1059.5,527.5 1060.5,537.5 1061.5,536.5 1062.5,522.5 1063.5,536.5 1064.5,529.5 1065.5,532.5 1066.5,531.5 1066.5,530.5 1067.5,531.5 1068.5,537.5 1069.5,536.5 1070.5,529.5 1071.5,527.5 1072.5,536.5 1073.5,536.5 1073.5,537.5 1074.5,536.5 1075.5,529.5 1076.5,530.5 1077.5,530.5 1078.5,532.5 1079.5,521.5 1080.5,500.5 1080.5,518.5 1081.5,536.5 1082.5,536.5 1083.5,527.5 1084.5,536.5 1085.5,530.5 1086.5,536.5 1087.5,537.5 1088.5,524.5 1088.5,537.5 1089.5,537.5 1090.5,528.5 1091.5,536.5 1092.5,527.5 1093.5,527.5 1094.5,537.5 1095.5,532.5 1095.5,529.5 1096.5,536.5 1097.5,529.5 1098.5,536.5 1099.5,520.5 1100.5,537.5 1101.5,529.5 1102.5,527.5 1102.5,527.5 1103.5,536.5 1104.5,520.5 1105.5,527.5 1106.5,527.5 1107.5,530.5 1108.5,532.5 1109.5,536.5 1109.5,529.5 1110.5,527.5 1111.5,537.5 1112.5,536.5 1113.5,532.5 1114.5,537.5 1115.5,536.5 1116.5,537.5 1117.5,536.5 1117.5,527.5 1118.5,537.5 1119.5,527.5 1120.5,530.5 1121.5,531.5 1122.5,532.5 1123.5,537.5 1124.5,537.5 1124.5,536.5 1125.5,528.5 1126.5,531.5 1127.5,537.5 1128.5,529.5 1129.5,536.5 1130.5,521.5 1131.5,500.5 1131.5,518.5 1132.5,527.5 1133.5,527.5 1134.5,537.5 1135.5,531.5 1136.5,537.5 1137.5,527.5 1138.5,536.5 1138.5,537.5 1139.5,528.5 1140.5,532.5 1141.5,520.5 1142.5,536.5 1143.5,527.5 1144.5,528.5 1145.5,536.5 1145.5,537.5 1146.5,536.5 1147.5,536.5 1148.5,536.5 1149.5,537.5 1150.5,536.5 1151.5,536.5 1152.5,530.5 1153.5,536.5 1153.5,537.5 1154.5,527.5 1155.5,536.5 1156.5,537.5 1157.5,529.5 1158.5,536.5 1159.5,536.5 1160.5,536.5 1160.5,531.5 1161.5,532.5 1162.5,531.5 1163.5,536.5 1164.5,529.5 1165.5,537.5 1166.5,536.5 1167.5,529.5 1167.5,536.5 1168.5,537.5 1169.5,536.5 1170.5,520.5 1171.5,536.5 1172.5,536.5 1173.5,528.5 1174.5,531.5 1174.5,527.5 1175.5,532.5 1176.5,532.5 1177.5,527.5 1178.5,527.5 1179.5,529.5 1180.5,527.5 1181.5,532.5 1182.5,536.5 1182.5,528.5 1183.5,528.5 1184.5,530.5 1185.5,529.5 1186.5,527.5 1187.5,537.5 1188.5,537.5 1189.5,530.5 1189.5,527.5 1190.5,528.5 1191.5,530.5 1192.5,529.5 1193.5,529.5 1194.5,530.5 1195.5,536.5 1196.5,536.5 1196.5,529.5 1197.5,529.5 1198.5,536.5 1199.5,536.5 1200.5,536.5 1201.5,536.5 1202.5,536.5 1203.5,536.5 1203.5,536.5 1204.5,536.5 1205.5,527.5 1206.5,530.5 1207.5,531.5 1208.5,527.5 1209.5,531.5 1210.5,527.5 1211.5,527.5 1211.5,536.5 1212.5,527.5 1213.5,536.5 1214.5,530.5 1215.5,528.5 1216.5,530.5 1217.5,536.5 1218.5,536.5 1218.5,531.5 1219.5,536.5 1220.5,527.5 1221.5,536.5 1222.5,527.5 1223.5,537.5 1224.5,528.5 1225.5,537.5 1225.5,536.5 1226.5,536.5 1227.5,531.5 1228.5,536.5 1229.5,536.5 1230.5,537.5 1231.5,531.5 1232.5,536.5 1232.5,532.5 1233.5,536.5 1234.5,536.5 1235.5,531.5 1236.5,537.5 1237.5,537.5 1238.5,529.5 1239.5,527.5 1239.5,536.5 1240.5,536.5 1241.5,536.5 1242.5,536.5 1243.5,537.5 1244.5,527.5 1245.5,527.5 1246.5,536.5 1247.5,537.5 1247.5,521.5 1248.5,500.5 1249.5,518.5 1250.5,529.5 1251.5,536.5 1252.5,537.5 1253.5,536.5 1254.5,536.5 1254.5,528.5 1255.5,524.5 1256.5,530.5 1257.5,527.5 1258.5,536.5 1259.5,528.5 1260.5,531.5 1261.5,536.5 1261.5,529.5 1262.5,532.5 1263.5,536.5 1264.5,536.5 1265.5,527.5 1266.5,536.5 1267.5,529.5 1268.5,528.5 1268.5,529.5 1269.5,531.5 1270.5,528.5 1271.5,532.5 1272.5,536.5 1273.5,537.5 1274.5,530.5 1275.5,527.5 1276.5,536.5 1276.5,527.5 1277.5,532.5 1278.5,537.5 1279.5,529.5 1280.5,530.5 1281.5,536.5 1282.5,537.5 1283.5,536.5 1283.5,528.5 1284.5,537.5 1285.5,537.5 1286.5,527.5 1287.5,536.5 1288.5,527.5 1289.5,529.5 1290.5,527.5 1290.5,527.5 1291.5,528.5 1292.5,537.5 1293.5,527.5 1294.5,530.5 1295.5,531.5 1296.5,536.5 1297.5,529.5 1297.5,536.5 1298.5,536.5 1299.5,536.5 1300.5,527.5 1301.5,529.5 1302.5,530.5 1303.5,532.5 1304.5,527.5 1304.5,537.5 1305.5,527.5 1306.5,536.5 1307.5,536.5 1308.5,530.5 1309.5,528.5 1310.5,527.5 1311.5,537.5 1312.5,527.5 1312.5,536.5 1313.5,529.5 1314.5,537.5 1315.5,527.5 1316.5,536.5 1317.5,529.5 1318.5,532.5 1319.5,536.5 1319.5,536.5 1320.5,532.5 1321.5,527.5 1322.5,537.5 1323.5,537.5 1324.5,531.5 1325.5,524.5 1326.5,528.5 1326.5,529.5 1327.5,527.5 1328.5,529.5 1329.5,536.5 1330.5,527.5 1331.5,536.5 1332.5,536.5 1333.5,537.5 1333.5,528.5 1334.5,536.5 1335.5,527.5 1336.5,531.5 1337.5,537.5 1338.5,522.5 1339.5,529.5 1340.5,527.5 1341.5,536.5 1341.5,528.5 1342.5,536.5 1343.5,536.5 1344.5,532.5 1345.5,521.5 1346.5,500.5 1347.5,518.5 1348.5,536.5 1348.5,531.5 1349.5,528.5 1350.5,531.5 1351.5,536.5 1352.5,527.5 1353.5,529.5 1354.5,531.5 1355.5,532.5 1355.5,527.5" stroke="#00c000" stroke-width="1" fill="none" shape-rendering="crispEdges"/>
<path d="M103.1 526.5H1356.0M105.5 526.5V533.5M106.5 526.5V533.5M110.5 526.5V537.5M112.5 526.5V532.5M113.5 526.5V536.5M115.5 526.5V523.5M116.5 526.5V537.5M117.5 526.5V523.5M118.5 526.5V536.5M121.5 526.5V523.5M122.5 526.5V537.5M124.5 526.5V533.5M126.5 526.5V535.5M126.5 526.5V525.5M127.5 526.5V535.5M129.5 526.5V536.5M130.5 526.5V524.5M131.5 526.5V533.5M133.5 526.5V533.5M134.5 526.5V535.5M134.5 526.5V523.5M138.5 526.5V537.5M139.5 526.5V532.5M141.5 526.5V537.5M142.5 526.5V536.5M145.5 526.5V525.5M146.5 526.5V536.5M150.5 526.5V537.5M211.5 526.5V535.5M213.5 526.5V536.5M217.5 526.5V533.5M218.5 526.5V530.5M220.5 526.5V536.5M222.5 526.5V525.5M228.5 526.5V523.5M232.5 526.5V525.5M233.5 526.5V524.5M235.5 526.5V523.5M236.5 526.5V537.5M239.5 526.5V525.5M241.5 526.5V524.5M243.5 526.5V535.5M244.5 526.5V537.5M249.5 526.5V536.5M252.5 526.5V536.5M255.5 526.5V536.5M258.5 526.5V536.5M259.5 526.5V525.5M261.5 526.5V525.5M264.5 526.5V524.5M264.5 526.5V537.5M271.5 526.5V523.5M274.5 526.5V532.5M275.5 526.5V532.5M277.5 526.5V523.5M278.5 526.5V535.5M278.5 526.5V536.5M281.5 526.5V532.5M283.5 526.5V536.5M285.5 526.5V523.5M287.5 526.5V533.5M288.5 526.5V533.5M291.5 526.5V533.5M293.5 526.5V536.5M293.5 526.5V537.5M298.5 526.5V535.5M300.5 526.5V537.5M303.5 526.5V523.5M307.5 526.5V536.5M307.5 526.5V536.5M308.5 526.5V536.5M309.5 526.5V523.5M310.5 526.5V537.5M313.5 526.5V536.5M315.5 526.5V524.5M318.5 526.5V533.5M323.5 526.5V525.5M325.5 526.5V536.5M326.5 526.5V535.5M329.5 526.5V530.5M331.5 526.5V530.5M342.5 526.5V536.5M345.5 526.5V532.5M357.5 526.5V533.5M358.5 526.5V536.5M359.5 526.5V536.5M361.5 526.5V536.5M362.5 526.5V524.5M365.5 526.5V532.5M374.5 526.5V537.5M381.5 526.5V533.5M385.5 526.5V536.5M387.5 526.5V530.5M393.5 526.5V523.5M400.5 526.5V530.5M406.5 526.5V524.5M407.5 526.5V533.5M408.5 526.5V533.5M408.5 526.5V536.5M410.5 526.5V535.5M412.5 526.5V523.5M413.5 526.5V535.5M415.5 526.5V536.5M417.5 526.5V535.5M421.5 526.5V537.5M422.5 526.5V533.5M428.5 526.5V536.5M430.5 526.5V537.5M431.5 526.5V537.5M432.5 526.5V535.5M437.5 526.5V523.5M445.5 526.5V537.5M447.5 526.5V536.5M450.5 526.5V536.5M452.5 526.5V537.5M452.5 526.5V532.5M454.5 526.5V536.5M455.5 526.5V535.5M468.5 526.5V523.5M470.5 526.5V524.5M471.5 526.5V532.5M473.5 526.5V536.5M478.5 526.5V536.5M480.5 526.5V532.5M480.5 526.5V535.5M481.5 526.5V533.5M482.5 526.5V536.5M483.5 526.5V535.5M484.5 526.5V525.5M485.5 526.5V524.5M486.5 526.5V533.5M487.5 526.5V530.5M491.5 526.5V525.5M492.5 526.5V536.5M495.5 526.5V532.5M499.5 526.5V524.5M500.5 526.5V536.5M501.5 526.5V532.5M502.5 526.5V536.5M504.5 526.5V537.5M511.5 526.5V532.5M513.5 526.5V537.5M514.5 526.5V525.5M516.5 526.5V523.5M518.5 526.5V523.5M521.5 526.5V536.5M523.5 526.5V535.5M524.5 526.5V537.5M526.5 526.5V535.5M527.5 526.5V533.5M531.5 526.5V536.5M533.5 526.5V535.5M539.5 526.5V535.5M541.5 526.5V535.5M546.5 526.5V537.5M548.5 526.5V536.5M549.5 526.5V535.5M552.5 526.5V533.5M553.5 526.5V535.5M554.5 526.5V525.5M555.5 526.5V536.5M558.5 526.5V524.5M559.5 526.5V537.5M560.5 526.5V525.5M561.5 526.5V536.5M562.5 526.5V532.5M563.5 526.5V535.5M565.5 526.5V523.5M574.5 526.5V536.5M577.5 526.5V536.5M578.5 526.5V533.5M579.5 526.5V537.5M582.5 526.5V524.5M582.5 526.5V536.5M585.5 526.5V532.5M586.5 526.5V533.5M588.5 526.5V537.5M589.5 526.5V535.5M593.5 526.5V532.5M596.5 526.5V535.5M598.5 526.5V525.5M604.5 526.5V533.5M607.5 526.5V524.5M611.5 526.5V525.5M611.5 526.5V536.5M613.5 526.5V525.5M616.5 526.5V536.5M619.5 526.5V525.5M624.5 526.5V536.5M625.5 526.5V535.5M626.5 526.5V533.5M627.5 526.5V523.5M630.5 526.5V536.5M631.5 526.5V536.5M632.5 526.5V525.5M632.5 526.5V536.5M633.5 526.5V523.5M638.5 526.5V533.5M640.5 526.5V524.5M641.5 526.5V523.5M643.5 526.5V536.5M647.5 526.5V525.5M647.5 526.5V536.5M654.5 526.5V535.5M654.5 526.5V533.5M662.5 526.5V535.5M666.5 526.5V536.5M668.5 526.5V537.5M672.5 526.5V533.5M676.5 526.5V536.5M680.5 526.5V536.5M683.5 526.5V536.5M685.5 526.5V533.5M686.5 526.5V524.5M690.5 526.5V537.5M695.5 526.5V535.5M697.5 526.5V530.5M697.5 526.5V524.5M698.5 526.5V525.5M699.5 526.5V532.5M701.5 526.5V523.5M702.5 526.5V537.5M703.5 526.5V536.5M712.5 526.5V536.5M714.5 526.5V533.5M717.5 526.5V536.5M718.5 526.5V535.5M719.5 526.5V525.5M725.5 526.5V537.5M726.5 526.5V533.5M728.5 526.5V530.5M730.5 526.5V537.5M733.5 526.5V523.5M733.5 526.5V524.5M736.5 526.5V525.5M742.5 526.5V524.5M745.5 526.5V533.5M748.5 526.5V536.5M749.5 526.5V533.5M752.5 526.5V535.5M753.5 526.5V524.5M760.5 526.5V537.5M761.5 526.5V535.5M762.5 526.5V537.5M766.5 526.5V536.5M771.5 526.5V536.5M772.5 526.5V536.5M776.5 526.5V535.5M789.5 526.5V536.5M792.5 526.5V530.5M794.5 526.5V535.5M795.5 526.5V524.5M806.5 526.5V533.5M808.5 526.5V537.5M812.5 526.5V533.5M813.5 526.5V536.5M815.5 526.5V536.5M820.5 526.5V533.5M821.5 526.5V536.5M825.5 526.5V537.5M827.5 526.5V536.5M831.5 526.5V536.5M835.5 526.5V536.5M835.5 526.5V525.5M838.5 526.5V535.5M843.5 526.5V537.5M845.5 526.5V536.5M847.5 526.5V536.5M848.5 526.5V523.5M851.5 526.5V537.5M853.5 526.5V525.5M856.5 526.5V536.5M864.5 526.5V536.5M864.5 526.5V537.5M866.5 526.5V537.5M867.5 526.5V537.5M869.5 526.5V525.5M870.5 526.5V533.5M873.5 526.5V533.5M875.5 526.5V532.5M876.5 526.5V523.5M881.5 526.5V525.5M882.5 526.5V537.5M883.5 526.5V536.5M885.5 526.5V525.5M887.5 526.5V525.5M892.5 526.5V535.5M892.5 526.5V537.5M896.5 526.5V536.5M897.5 526.5V525.5M905.5 526.5V535.5M907.5 526.5V523.5M910.5 526.5V536.5M911.5 526.5V537.5M912.5 526.5V533.5M914.5 526.5V523.5M914.5 526.5V525.5M921.5 526.5V537.5M924.5 526.5V537.5M927.5 526.5V535.5M934.5 526.5V536.5M936.5 526.5V536.5M938.5 526.5V523.5M939.5 526.5V535.5M940.5 526.5V525.5M941.5 526.5V523.5M944.5 526.5V525.5M946.5 526.5V536.5M947.5 526.5V533.5M950.5 526.5V535.5M950.5 526.5V523.5M951.5 526.5V533.5M955.5 526.5V525.5M956.5 526.5V537.5M959.5 526.5V535.5M961.5 526.5V533.5M963.5 526.5V536.5M964.5 526.5V537.5M965.5 526.5V536.5M968.5 526.5V525.5M969.5 526.5V537.5M971.5 526.5V533.5M972.5 526.5V524.5M981.5 526.5V536.5M986.5 526.5V525.5M990.5 526.5V536.5M993.5 526.5V536.5M994.5 526.5V523.5M1001.5 526.5V536.5M1007.5 526.5V536.5M1008.5 526.5V536.5M1010.5 526.5V535.5M1015.5 526.5V535.5M1016.5 526.5V536.5M1020.5 526.5V525.5M1021.5 526.5V537.5M1022.5 526.5V536.5M1023.5 526.5V535.5M1024.5 526.5V537.5M1025.5 526.5V533.5M1027.5 526.5V535.5M1028.5 526.5V532.5M1033.5 526.5V535.5M1039.5 526.5V537.5M1044.5 526.5V536.5M1046.5 526.5V536.5M1048.5 526.5V537.5M1051.5 526.5V533.5M1055.5 526.5V525.5M1057.5 526.5V537.5M1058.5 526.5V523.5M1059.5 526.5V535.5M1064.5 526.5V525.5M1069.5 526.5V533.5M1072.5 526.5V537.5M1073.5 526.5V525.5M1074.5 526.5V535.5M1076.5 526.5V532.5M1077.5 526.5V536.5M1078.5 526.5V537.5M1079.5 526.5V536.5M1080.5 526.5V537.5M1083.5 526.5V537.5M1084.5 526.5V536.5M1088.5 526.5V530.5M1089.5 526.5V524.5M1090.5 526.5V535.5M1095.5 526.5V533.5M1095.5 526.5V525.5M1102.5 526.5V536.5M1103.5 526.5V537.5M1105.5 526.5V535.5M1106.5 526.5V523.5M1108.5 526.5V536.5M1109.5 526.5V535.5M1110.5 526.5V537.5M1112.5 526.5V535.5M1115.5 526.5V532.5M1117.5 526.5V530.5M1118.5 526.5V530.5M1129.5 526.5V523.5M1132.5 526.5V524.5M1135.5 526.5V524.5M1137.5 526.5V537.5M1138.5 526.5V532.5M1139.5 526.5V525.5M1140.5 526.5V523.5M1144.5 526.5V533.5M1146.5 526.5V536.5M1150.5 526.5V536.5M1154.5 526.5V533.5M1155.5 526.5V536.5M1157.5 526.5V525.5M1158.5 526.5V537.5M1164.5 526.5V537.5M1165.5 526.5V530.5M1167.5 526.5V532.5M1167.5 526.5V536.5M1170.5 526.5V535.5M1173.5 526.5V536.5M1175.5 526.5V536.5M1182.5 526.5V536.5M1183.5 526.5V536.5M1187.5 526.5V524.5M1189.5 526.5V536.5M1195.5 526.5V536.5M1196.5 526.5V537.5M1196.5 526.5V537.5M1198.5 526.5V533.5M1202.5 526.5V525.5M1207.5 526.5V524.5M1208.5 526.5V524.5M1212.5 526.5V535.5M1213.5 526.5V535.5M1218.5 526.5V530.5M1221.5 526.5V536.5M1225.5 526.5V536.5M1228.5 526.5V536.5M1229.5 526.5V537.5M1232.5 526.5V537.5M1235.5 526.5V524.5M1239.5 526.5V535.5M1240.5 526.5V535.5M1244.5 526.5V537.5M1254.5 526.5V536.5M1255.5 526.5V537.5M1260.5 526.5V536.5M1261.5 526.5V524.5M1261.5 526.5V525.5M1264.5 526.5V536.5M1267.5 526.5V533.5M1270.5 526.5V537.5M1281.5 526.5V535.5M1282.5 526.5V523.5M1286.5 526.5V537.5M1290.5 526.5V537.5M1291.5 526.5V533.5M1296.5 526.5V536.5M1297.5 526.5V536.5M1299.5 526.5V536.5M1302.5 526.5V530.5M1303.5 526.5V523.5M1304.5 526.5V532.5M1305.5 526.5V533.5M1311.5 526.5V535.5M1314.5 526.5V533.5M1315.5 526.5V537.5M1316.5 526.5V536.5M1317.5 526.5V536.5M1319.5 526.5V535.5M1320.5 526.5V523.5M1322.5 526.5V524.5M1324.5 526.5V525.5M1326.5 526.5V533.5M1332.5 526.5V537.5M1333.5 526.5V537.5M1336.5 526.5V535.5M1338.5 526.5V536.5M1340.5 526.5V537.5M1342.5 526.5V530.5M1344.5 526.5V523.5M1347.5 526.5V537.5M1348.5 526.5V530.5M1349.5 526.5V535.5M1355.5 526.5V530.5" stroke="#0080ff" stroke-width="1" fill="none" shape-rendering="crispEdges"/>
<polygon points="101.50,402.20 110.00,415.00 93.00,415.00" fill="#ffc020"/>
<polygon points="206.92,402.20 215.42,415.00 198.42,415.00" fill="#ffc020"/>
<polygon points="259.62,402.20 268.12,415.00 251.12,415.00" fill="#ffc020"/>
<polygon points="312.33,402.20 320.83,415.00 303.83,415.00" fill="#ffc020"/>
<polygon points="365.04,402.20 373.54,415.00 356.54,415.00" fill="#ffc020"/>
<polygon points="628.58,402.20 637.08,415.00 620.08,415.00" fill="#ffc020"/>
<polygon points="681.29,402.20 689.79,415.00 672.79,415.00" fill="#ffc020"/>
<polygon points="734.00,402.20 742.50,415.00 725.50,415.00" fill="#ffc020"/>
<polygon points="786.70,402.20 795.20,415.00 778.20,415.00" fill="#ffc020"/>
<polygon points="839.41,402.20 847.91,415.00 830.91,415.00" fill="#ffc020"/>
<polygon points="892.12,402.20 900.62,415.00 883.62,415.00" fill="#ffc020"/>
<polygon points="997.54,402.20 1006.04,415.00 989.04,415.00" fill="#ffc020"/>
<polygon points="1208.37,402.20 1216.87,415.00 1199.87,415.00" fill="#ffc020"/>
<polygon points="1261.08,402.20 1269.58,415.00 1252.58,415.00" fill="#ffc020"/>
<polygon points="1313.78,402.20 1322.28,415.00 1305.28,415.00" fill="#ffc020"/>
<rect x="96.00" y="481.00" width="13" height="13" fill="#00eeee"/>
<rect x="200.30" y="481.00" width="13" height="13" fill="#00eeee"/>
<rect x="206.80" y="481.00" width="13" height="13" fill="#00eeee"/>
<rect x="295.80" y="481.00" width="13" height="13" fill="#00eeee"/>
<rect x="384.90" y="481.00" width="13" height="13" fill="#00eeee"/>
<rect x="473.80" y="481.00" width="13" height="13" fill="#00eeee"/>
<rect x="562.10" y="481.00" width="13" height="13" fill="#00eeee"/>
<rect x="651.00" y="481.00" width="13" height="13" fill="#00eeee"/>
<rect x="740.00" y="481.00" width="13" height="13" fill="#00eeee"/>
<rect x="828.90" y="481.00" width="13" height="13" fill="#00eeee"/>
<rect x="917.00" y="481.00" width="13" height="13" fill="#00eeee"/>
<rect x="1006.00" y="481.00" width="13" height="13" fill="#00eeee"/>
<rect x="1094.90" y="481.00" width="13" height="13" fill="#00eeee"/>
<rect x="1183.00" y="481.00" width="13" height="13" fill="#00eeee"/>
<rect x="1272.00" y="481.00" width="13" height="13" fill="#00eeee"/>
<polygon points="100.90,505.40 105.70,505.40 108.20,507.90 108.20,512.70 105.70,515.20 100.90,515.20 98.40,512.70 98.40,507.90" fill="none" stroke="#c04000" stroke-width="1.25"/><path d="M103.30 503.70v1.6M103.30 515.30v1.6M96.70 510.30h1.6M108.30 510.30h1.6" stroke="#c04000" stroke-width="1"/>
<polygon points="147.00,504.30 151.80,504.30 154.30,506.80 154.30,511.60 151.80,514.10 147.00,514.10 144.50,511.60 144.50,506.80" fill="none" stroke="#c04000" stroke-width="1.25"/><path d="M149.40 502.60v1.6M149.40 514.20v1.6M142.80 509.20h1.6M154.40 509.20h1.6" stroke="#c04000" stroke-width="1"/>
<polygon points="205.90,510.50 210.70,510.50 213.20,513.00 213.20,517.80 210.70,520.30 205.90,520.30 203.40,517.80 203.40,513.00" fill="none" stroke="#c04000" stroke-width="1.25"/><path d="M208.30 508.80v1.6M208.30 520.40v1.6M201.70 515.40h1.6M213.30 515.40h1.6" stroke="#c04000" stroke-width="1"/>
<polygon points="253.00,513.70 257.80,513.70 260.30,516.20 260.30,521.00 257.80,523.50 253.00,523.50 250.50,521.00 250.50,516.20" fill="none" stroke="#c04000" stroke-width="1.25"/><path d="M255.40 512.00v1.6M255.40 523.60v1.6M248.80 518.60h1.6M260.40 518.60h1.6" stroke="#c04000" stroke-width="1"/>
<polygon points="259.00,509.20 263.80,509.20 266.30,511.70 266.30,516.50 263.80,519.00 259.00,519.00 256.50,516.50 256.50,511.70" fill="none" stroke="#c04000" stroke-width="1.25"/><path d="M261.40 507.50v1.6M261.40 519.10v1.6M254.80 514.10h1.6M266.40 514.10h1.6" stroke="#c04000" stroke-width="1"/>
<polygon points="304.60,484.60 309.40,484.60 311.90,487.10 311.90,491.90 309.40,494.40 304.60,494.40 302.10,491.90 302.10,487.10" fill="none" stroke="#c04000" stroke-width="1.25"/><path d="M307.00 482.90v1.6M307.00 494.50v1.6M300.40 489.50h1.6M312.00 489.50h1.6" stroke="#c04000" stroke-width="1"/>
<polygon points="311.90,508.40 316.70,508.40 319.20,510.90 319.20,515.70 316.70,518.20 311.90,518.20 309.40,515.70 309.40,510.90" fill="none" stroke="#c04000" stroke-width="1.25"/><path d="M314.30 506.70v1.6M314.30 518.30v1.6M307.70 513.30h1.6M319.30 513.30h1.6" stroke="#c04000" stroke-width="1"/>
<polygon points="357.60,512.20 362.40,512.20 364.90,514.70 364.90,519.50 362.40,522.00 357.60,522.00 355.10,519.50 355.10,514.70" fill="none" stroke="#c04000" stroke-width="1.25"/><path d="M360.00 510.50v1.6M360.00 522.10v1.6M353.40 517.10h1.6M365.00 517.10h1.6" stroke="#c04000" stroke-width="1"/>
<polygon points="364.00,511.10 368.80,511.10 371.30,513.60 371.30,518.40 368.80,520.90 364.00,520.90 361.50,518.40 361.50,513.60" fill="none" stroke="#c04000" stroke-width="1.25"/><path d="M366.40 509.40v1.6M366.40 521.00v1.6M359.80 516.00h1.6M371.40 516.00h1.6" stroke="#c04000" stroke-width="1"/>
<polygon points="470.20,458.20 475.00,458.20 477.50,460.70 477.50,465.50 475.00,468.00 470.20,468.00 467.70,465.50 467.70,460.70" fill="none" stroke="#c04000" stroke-width="1.25"/><path d="M472.60 456.50v1.6M472.60 468.10v1.6M466.00 463.10h1.6M477.60 463.10h1.6" stroke="#c04000" stroke-width="1"/>
<polygon points="627.90,461.50 632.70,461.50 635.20,464.00 635.20,468.80 632.70,471.30 627.90,471.30 625.40,468.80 625.40,464.00" fill="none" stroke="#c04000" stroke-width="1.25"/><path d="M630.30 459.80v1.6M630.30 471.40v1.6M623.70 466.40h1.6M635.30 466.40h1.6" stroke="#c04000" stroke-width="1"/>
<polygon points="410.80,508.40 415.60,508.40 418.10,510.90 418.10,515.70 415.60,518.20 410.80,518.20 408.30,515.70 408.30,510.90" fill="none" stroke="#c04000" stroke-width="1.25"/><path d="M413.20 506.70v1.6M413.20 518.30v1.6M406.60 513.30h1.6M418.20 513.30h1.6" stroke="#c04000" stroke-width="1"/>
<polygon points="417.20,507.30 422.00,507.30 424.50,509.80 424.50,514.60 422.00,517.10 417.20,517.10 414.70,514.60 414.70,509.80" fill="none" stroke="#c04000" stroke-width="1.25"/><path d="M419.60 505.60v1.6M419.60 517.20v1.6M413.00 512.20h1.6M424.60 512.20h1.6" stroke="#c04000" stroke-width="1"/>
<polygon points="464.00,509.50 468.80,509.50 471.30,512.00 471.30,516.80 468.80,519.30 464.00,519.30 461.50,516.80 461.50,512.00" fill="none" stroke="#c04000" stroke-width="1.25"/><path d="M466.40 507.80v1.6M466.40 519.40v1.6M459.80 514.40h1.6M471.40 514.40h1.6" stroke="#c04000" stroke-width="1"/>
<polygon points="515.80,509.50 520.60,509.50 523.10,512.00 523.10,516.80 520.60,519.30 515.80,519.30 513.30,516.80 513.30,512.00" fill="none" stroke="#c04000" stroke-width="1.25"/><path d="M518.20 507.80v1.6M518.20 519.40v1.6M511.60 514.40h1.6M523.20 514.40h1.6" stroke="#c04000" stroke-width="1"/>
<polygon points="522.20,508.40 527.00,508.40 529.50,510.90 529.50,515.70 527.00,518.20 522.20,518.20 519.70,515.70 519.70,510.90" fill="none" stroke="#c04000" stroke-width="1.25"/><path d="M524.60 506.70v1.6M524.60 518.30v1.6M518.00 513.30h1.6M529.60 513.30h1.6" stroke="#c04000" stroke-width="1"/>
<polygon points="568.90,507.30 573.70,507.30 576.20,509.80 576.20,514.60 573.70,517.10 568.90,517.10 566.40,514.60 566.40,509.80" fill="none" stroke="#c04000" stroke-width="1.25"/><path d="M571.30 505.60v1.6M571.30 517.20v1.6M564.70 512.20h1.6M576.30 512.20h1.6" stroke="#c04000" stroke-width="1"/>
<polygon points="574.70,507.30 579.50,507.30 582.00,509.80 582.00,514.60 579.50,517.10 574.70,517.10 572.20,514.60 572.20,509.80" fill="none" stroke="#c04000" stroke-width="1.25"/><path d="M577.10 505.60v1.6M577.10 517.20v1.6M570.50 512.20h1.6M582.10 512.20h1.6" stroke="#c04000" stroke-width="1"/>
<polygon points="621.90,509.50 626.70,509.50 629.20,512.00 629.20,516.80 626.70,519.30 621.90,519.30 619.40,516.80 619.40,512.00" fill="none" stroke="#c04000" stroke-width="1.25"/><path d="M624.30 507.80v1.6M624.30 519.40v1.6M617.70 514.40h1.6M629.30 514.40h1.6" stroke="#c04000" stroke-width="1"/>
<polygon points="673.30,512.70 678.10,512.70 680.60,515.20 680.60,520.00 678.10,522.50 673.30,522.50 670.80,520.00 670.80,515.20" fill="none" stroke="#c04000" stroke-width="1.25"/><path d="M675.70 511.00v1.6M675.70 522.60v1.6M669.10 517.60h1.6M680.70 517.60h1.6" stroke="#c04000" stroke-width="1"/>
<polygon points="839.00,462.50 843.80,462.50 846.30,465.00 846.30,469.80 843.80,472.30 839.00,472.30 836.50,469.80 836.50,465.00" fill="none" stroke="#c04000" stroke-width="1.25"/><path d="M841.40 460.80v1.6M841.40 472.40v1.6M834.80 467.40h1.6M846.40 467.40h1.6" stroke="#c04000" stroke-width="1"/>
<polygon points="680.90,507.50 685.70,507.50 688.20,510.00 688.20,514.80 685.70,517.30 680.90,517.30 678.40,514.80 678.40,510.00" fill="none" stroke="#c04000" stroke-width="1.25"/><path d="M683.30 505.80v1.6M683.30 517.40v1.6M676.70 512.40h1.6M688.30 512.40h1.6" stroke="#c04000" stroke-width="1"/>
<polygon points="727.00,508.40 731.80,508.40 734.30,510.90 734.30,515.70 731.80,518.20 727.00,518.20 724.50,515.70 724.50,510.90" fill="none" stroke="#c04000" stroke-width="1.25"/><path d="M729.40 506.70v1.6M729.40 518.30v1.6M722.80 513.30h1.6M734.40 513.30h1.6" stroke="#c04000" stroke-width="1"/>
<polygon points="733.00,512.20 737.80,512.20 740.30,514.70 740.30,519.50 737.80,522.00 733.00,522.00 730.50,519.50 730.50,514.70" fill="none" stroke="#c04000" stroke-width="1.25"/><path d="M735.40 510.50v1.6M735.40 522.10v1.6M728.80 517.10h1.6M740.40 517.10h1.6" stroke="#c04000" stroke-width="1"/>
<polygon points="779.60,502.10 784.40,502.10 786.90,504.60 786.90,509.40 784.40,511.90 779.60,511.90 777.10,509.40 777.10,504.60" fill="none" stroke="#c04000" stroke-width="1.25"/><path d="M782.00 500.40v1.6M782.00 512.00v1.6M775.40 507.00h1.6M787.00 507.00h1.6" stroke="#c04000" stroke-width="1"/>
<polygon points="785.90,509.50 790.70,509.50 793.20,512.00 793.20,516.80 790.70,519.30 785.90,519.30 783.40,516.80 783.40,512.00" fill="none" stroke="#c04000" stroke-width="1.25"/><path d="M788.30 507.80v1.6M788.30 519.40v1.6M781.70 514.40h1.6M793.30 514.40h1.6" stroke="#c04000" stroke-width="1"/>
<polygon points="833.00,505.10 837.80,505.10 840.30,507.60 840.30,512.40 837.80,514.90 833.00,514.90 830.50,512.40 830.50,507.60" fill="none" stroke="#c04000" stroke-width="1.25"/><path d="M835.40 503.40v1.6M835.40 515.00v1.6M828.80 510.00h1.6M840.40 510.00h1.6" stroke="#c04000" stroke-width="1"/>
<polygon points="884.60,510.50 889.40,510.50 891.90,513.00 891.90,517.80 889.40,520.30 884.60,520.30 882.10,517.80 882.10,513.00" fill="none" stroke="#c04000" stroke-width="1.25"/><path d="M887.00 508.80v1.6M887.00 520.40v1.6M880.40 515.40h1.6M892.00 515.40h1.6" stroke="#c04000" stroke-width="1"/>
<polygon points="891.10,509.50 895.90,509.50 898.40,512.00 898.40,516.80 895.90,519.30 891.10,519.30 888.60,516.80 888.60,512.00" fill="none" stroke="#c04000" stroke-width="1.25"/><path d="M893.50 507.80v1.6M893.50 519.40v1.6M886.90 514.40h1.6M898.50 514.40h1.6" stroke="#c04000" stroke-width="1"/>
<polygon points="938.00,505.40 942.80,505.40 945.30,507.90 945.30,512.70 942.80,515.20 938.00,515.20 935.50,512.70 935.50,507.90" fill="none" stroke="#c04000" stroke-width="1.25"/><path d="M940.40 503.70v1.6M940.40 515.30v1.6M933.80 510.30h1.6M945.40 510.30h1.6" stroke="#c04000" stroke-width="1"/>
<polygon points="944.00,509.50 948.80,509.50 951.30,512.00 951.30,516.80 948.80,519.30 944.00,519.30 941.50,516.80 941.50,512.00" fill="none" stroke="#c04000" stroke-width="1.25"/><path d="M946.40 507.80v1.6M946.40 519.40v1.6M939.80 514.40h1.6M951.40 514.40h1.6" stroke="#c04000" stroke-width="1"/>
<polygon points="1148.90,460.40 1153.70,460.40 1156.20,462.90 1156.20,467.70 1153.70,470.20 1148.90,470.20 1146.40,467.70 1146.40,462.90" fill="none" stroke="#c04000" stroke-width="1.25"/><path d="M1151.30 458.70v1.6M1151.30 470.30v1.6M1144.70 465.30h1.6M1156.30 465.30h1.6" stroke="#c04000" stroke-width="1"/>
<polygon points="990.80,509.50 995.60,509.50 998.10,512.00 998.10,516.80 995.60,519.30 990.80,519.30 988.30,516.80 988.30,512.00" fill="none" stroke="#c04000" stroke-width="1.25"/><path d="M993.20 507.80v1.6M993.20 519.40v1.6M986.60 514.40h1.6M998.20 514.40h1.6" stroke="#c04000" stroke-width="1"/>
<polygon points="997.20,508.40 1002.00,508.40 1004.50,510.90 1004.50,515.70 1002.00,518.20 997.20,518.20 994.70,515.70 994.70,510.90" fill="none" stroke="#c04000" stroke-width="1.25"/><path d="M999.60 506.70v1.6M999.60 518.30v1.6M993.00 513.30h1.6M1004.60 513.30h1.6" stroke="#c04000" stroke-width="1"/>
<polygon points="1042.90,511.10 1047.70,511.10 1050.20,513.60 1050.20,518.40 1047.70,520.90 1042.90,520.90 1040.40,518.40 1040.40,513.60" fill="none" stroke="#c04000" stroke-width="1.25"/><path d="M1045.30 509.40v1.6M1045.30 521.00v1.6M1038.70 516.00h1.6M1050.30 516.00h1.6" stroke="#c04000" stroke-width="1"/>
<polygon points="1050.20,497.20 1055.00,497.20 1057.50,499.70 1057.50,504.50 1055.00,507.00 1050.20,507.00 1047.70,504.50 1047.70,499.70" fill="none" stroke="#c04000" stroke-width="1.25"/><path d="M1052.60 495.50v1.6M1052.60 507.10v1.6M1046.00 502.10h1.6M1057.60 502.10h1.6" stroke="#c04000" stroke-width="1"/>
<polygon points="1095.80,509.50 1100.60,509.50 1103.10,512.00 1103.10,516.80 1100.60,519.30 1095.80,519.30 1093.30,516.80 1093.30,512.00" fill="none" stroke="#c04000" stroke-width="1.25"/><path d="M1098.20 507.80v1.6M1098.20 519.40v1.6M1091.60 514.40h1.6M1103.20 514.40h1.6" stroke="#c04000" stroke-width="1"/>
<polygon points="1101.80,512.20 1106.60,512.20 1109.10,514.70 1109.10,519.50 1106.60,522.00 1101.80,522.00 1099.30,519.50 1099.30,514.70" fill="none" stroke="#c04000" stroke-width="1.25"/><path d="M1104.20 510.50v1.6M1104.20 522.10v1.6M1097.60 517.10h1.6M1109.20 517.10h1.6" stroke="#c04000" stroke-width="1"/>
<polygon points="1154.70,506.20 1159.50,506.20 1162.00,508.70 1162.00,513.50 1159.50,516.00 1154.70,516.00 1152.20,513.50 1152.20,508.70" fill="none" stroke="#c04000" stroke-width="1.25"/><path d="M1157.10 504.50v1.6M1157.10 516.10v1.6M1150.50 511.10h1.6M1162.10 511.10h1.6" stroke="#c04000" stroke-width="1"/>
<polygon points="1201.20,509.50 1206.00,509.50 1208.50,512.00 1208.50,516.80 1206.00,519.30 1201.20,519.30 1198.70,516.80 1198.70,512.00" fill="none" stroke="#c04000" stroke-width="1.25"/><path d="M1203.60 507.80v1.6M1203.60 519.40v1.6M1197.00 514.40h1.6M1208.60 514.40h1.6" stroke="#c04000" stroke-width="1"/>
<polygon points="1207.90,506.20 1212.70,506.20 1215.20,508.70 1215.20,513.50 1212.70,516.00 1207.90,516.00 1205.40,513.50 1205.40,508.70" fill="none" stroke="#c04000" stroke-width="1.25"/><path d="M1210.30 504.50v1.6M1210.30 516.10v1.6M1203.70 511.10h1.6M1215.30 511.10h1.6" stroke="#c04000" stroke-width="1"/>
<polygon points="1254.20,508.60 1259.00,508.60 1261.50,511.10 1261.50,515.90 1259.00,518.40 1254.20,518.40 1251.70,515.90 1251.70,511.10" fill="none" stroke="#c04000" stroke-width="1.25"/><path d="M1256.60 506.90v1.6M1256.60 518.50v1.6M1250.00 513.50h1.6M1261.60 513.50h1.6" stroke="#c04000" stroke-width="1"/>
<polygon points="1260.00,508.60 1264.80,508.60 1267.30,511.10 1267.30,515.90 1264.80,518.40 1260.00,518.40 1257.50,515.90 1257.50,511.10" fill="none" stroke="#c04000" stroke-width="1.25"/><path d="M1262.40 506.90v1.6M1262.40 518.50v1.6M1255.80 513.50h1.6M1267.40 513.50h1.6" stroke="#c04000" stroke-width="1"/>
<polygon points="1307.10,509.50 1311.90,509.50 1314.40,512.00 1314.40,516.80 1311.90,519.30 1307.10,519.30 1304.60,516.80 1304.60,512.00" fill="none" stroke="#c04000" stroke-width="1.25"/><path d="M1309.50 507.80v1.6M1309.50 519.40v1.6M1302.90 514.40h1.6M1314.50 514.40h1.6" stroke="#c04000" stroke-width="1"/>
<polygon points="1312.90,508.60 1317.70,508.60 1320.20,511.10 1320.20,515.90 1317.70,518.40 1312.90,518.40 1310.40,515.90 1310.40,511.10" fill="none" stroke="#c04000" stroke-width="1.25"/><path d="M1315.30 506.90v1.6M1315.30 518.50v1.6M1308.70 513.50h1.6M1320.30 513.50h1.6" stroke="#c04000" stroke-width="1"/>
<polygon points="1360.10,508.60 1364.90,508.60 1367.40,511.10 1367.40,515.90 1364.90,518.40 1360.10,518.40 1357.60,515.90 1357.60,511.10" fill="none" stroke="#c04000" stroke-width="1.25"/><path d="M1362.50 506.90v1.6M1362.50 518.50v1.6M1355.90 513.50h1.6M1367.50 513.50h1.6" stroke="#c04000" stroke-width="1"/>
<polygon points="100.40,531.70 106.20,531.70 108.90,534.40 108.90,540.20 106.20,542.90 100.40,542.90 97.70,540.20 97.70,534.40" fill="#c8c800"/><path d="M103.30 530.70v1.4M103.30 542.50v1.4" stroke="#c8c800" stroke-width="1"/>
<polygon points="146.50,531.70 152.30,531.70 155.00,534.40 155.00,540.20 152.30,542.90 146.50,542.90 143.80,540.20 143.80,534.40" fill="#c8c800"/><path d="M149.40 530.70v1.4M149.40 542.50v1.4" stroke="#c8c800" stroke-width="1"/>
<polygon points="205.40,531.70 211.20,531.70 213.90,534.40 213.90,540.20 211.20,542.90 205.40,542.90 202.70,540.20 202.70,534.40" fill="#c8c800"/><path d="M208.30 530.70v1.4M208.30 542.50v1.4" stroke="#c8c800" stroke-width="1"/>
<polygon points="252.50,531.70 258.30,531.70 261.00,534.40 261.00,540.20 258.30,542.90 252.50,542.90 249.80,540.20 249.80,534.40" fill="#c8c800"/><path d="M255.40 530.70v1.4M255.40 542.50v1.4" stroke="#c8c800" stroke-width="1"/>
<polygon points="258.50,531.70 264.30,531.70 267.00,534.40 267.00,540.20 264.30,542.90 258.50,542.90 255.80,540.20 255.80,534.40" fill="#c8c800"/><path d="M261.40 530.70v1.4M261.40 542.50v1.4" stroke="#c8c800" stroke-width="1"/>
<polygon points="304.10,531.70 309.90,531.70 312.60,534.40 312.60,540.20 309.90,542.90 304.10,542.90 301.40,540.20 301.40,534.40" fill="#c8c800"/><path d="M307.00 530.70v1.4M307.00 542.50v1.4" stroke="#c8c800" stroke-width="1"/>
<polygon points="311.40,531.70 317.20,531.70 319.90,534.40 319.90,540.20 317.20,542.90 311.40,542.90 308.70,540.20 308.70,534.40" fill="#c8c800"/><path d="M314.30 530.70v1.4M314.30 542.50v1.4" stroke="#c8c800" stroke-width="1"/>
<polygon points="357.10,531.70 362.90,531.70 365.60,534.40 365.60,540.20 362.90,542.90 357.10,542.90 354.40,540.20 354.40,534.40" fill="#c8c800"/><path d="M360.00 530.70v1.4M360.00 542.50v1.4" stroke="#c8c800" stroke-width="1"/>
<polygon points="363.50,531.70 369.30,531.70 372.00,534.40 372.00,540.20 369.30,542.90 363.50,542.90 360.80,540.20 360.80,534.40" fill="#c8c800"/><path d="M366.40 530.70v1.4M366.40 542.50v1.4" stroke="#c8c800" stroke-width="1"/>
<polygon points="469.70,531.70 475.50,531.70 478.20,534.40 478.20,540.20 475.50,542.90 469.70,542.90 467.00,540.20 467.00,534.40" fill="#c8c800"/><path d="M472.60 530.70v1.4M472.60 542.50v1.4" stroke="#c8c800" stroke-width="1"/>
<polygon points="627.40,531.70 633.20,531.70 635.90,534.40 635.90,540.20 633.20,542.90 627.40,542.90 624.70,540.20 624.70,534.40" fill="#c8c800"/><path d="M630.30 530.70v1.4M630.30 542.50v1.4" stroke="#c8c800" stroke-width="1"/>
<polygon points="410.30,531.70 416.10,531.70 418.80,534.40 418.80,540.20 416.10,542.90 410.30,542.90 407.60,540.20 407.60,534.40" fill="#c8c800"/><path d="M413.20 530.70v1.4M413.20 542.50v1.4" stroke="#c8c800" stroke-width="1"/>
<polygon points="416.70,531.70 422.50,531.70 425.20,534.40 425.20,540.20 422.50,542.90 416.70,542.90 414.00,540.20 414.00,534.40" fill="#c8c800"/><path d="M419.60 530.70v1.4M419.60 542.50v1.4" stroke="#c8c800" stroke-width="1"/>
<polygon points="463.50,531.70 469.30,531.70 472.00,534.40 472.00,540.20 469.30,542.90 463.50,542.90 460.80,540.20 460.80,534.40" fill="#c8c800"/><path d="M466.40 530.70v1.4M466.40 542.50v1.4" stroke="#c8c800" stroke-width="1"/>
<polygon points="515.30,531.70 521.10,531.70 523.80,534.40 523.80,540.20 521.10,542.90 515.30,542.90 512.60,540.20 512.60,534.40" fill="#c8c800"/><path d="M518.20 530.70v1.4M518.20 542.50v1.4" stroke="#c8c800" stroke-width="1"/>
<polygon points="521.70,531.70 527.50,531.70 530.20,534.40 530.20,540.20 527.50,542.90 521.70,542.90 519.00,540.20 519.00,534.40" fill="#c8c800"/><path d="M524.60 530.70v1.4M524.60 542.50v1.4" stroke="#c8c800" stroke-width="1"/>
<polygon points="568.40,531.70 574.20,531.70 576.90,534.40 576.90,540.20 574.20,542.90 568.40,542.90 565.70,540.20 565.70,534.40" fill="#c8c800"/><path d="M571.30 530.70v1.4M571.30 542.50v1.4" stroke="#c8c800" stroke-width="1"/>
<polygon points="574.20,531.70 580.00,531.70 582.70,534.40 582.70,540.20 580.00,542.90 574.20,542.90 571.50,540.20 571.50,534.40" fill="#c8c800"/><path d="M577.10 530.70v1.4M577.10 542.50v1.4" stroke="#c8c800" stroke-width="1"/>
<polygon points="621.40,531.70 627.20,531.70 629.90,534.40 629.90,540.20 627.20,542.90 621.40,542.90 618.70,540.20 618.70,534.40" fill="#c8c800"/><path d="M624.30 530.70v1.4M624.30 542.50v1.4" stroke="#c8c800" stroke-width="1"/>
<polygon points="672.80,531.70 678.60,531.70 681.30,534.40 681.30,540.20 678.60,542.90 672.80,542.90 670.10,540.20 670.10,534.40" fill="#c8c800"/><path d="M675.70 530.70v1.4M675.70 542.50v1.4" stroke="#c8c800" stroke-width="1"/>
<polygon points="838.50,531.70 844.30,531.70 847.00,534.40 847.00,540.20 844.30,542.90 838.50,542.90 835.80,540.20 835.80,534.40" fill="#c8c800"/><path d="M841.40 530.70v1.4M841.40 542.50v1.4" stroke="#c8c800" stroke-width="1"/>
<polygon points="680.40,531.70 686.20,531.70 688.90,534.40 688.90,540.20 686.20,542.90 680.40,542.90 677.70,540.20 677.70,534.40" fill="#c8c800"/><path d="M683.30 530.70v1.4M683.30 542.50v1.4" stroke="#c8c800" stroke-width="1"/>
<polygon points="726.50,531.70 732.30,531.70 735.00,534.40 735.00,540.20 732.30,542.90 726.50,542.90 723.80,540.20 723.80,534.40" fill="#c8c800"/><path d="M729.40 530.70v1.4M729.40 542.50v1.4" stroke="#c8c800" stroke-width="1"/>
<polygon points="732.50,531.70 738.30,531.70 741.00,534.40 741.00,540.20 738.30,542.90 732.50,542.90 729.80,540.20 729.80,534.40" fill="#c8c800"/><path d="M735.40 530.70v1.4M735.40 542.50v1.4" stroke="#c8c800" stroke-width="1"/>
<polygon points="779.10,531.70 784.90,531.70 787.60,534.40 787.60,540.20 784.90,542.90 779.10,542.90 776.40,540.20 776.40,534.40" fill="#c8c800"/><path d="M782.00 530.70v1.4M782.00 542.50v1.4" stroke="#c8c800" stroke-width="1"/>
<polygon points="785.40,531.70 791.20,531.70 793.90,534.40 793.90,540.20 791.20,542.90 785.40,542.90 782.70,540.20 782.70,534.40" fill="#c8c800"/><path d="M788.30 530.70v1.4M788.30 542.50v1.4" stroke="#c8c800" stroke-width="1"/>
<polygon points="832.50,531.70 838.30,531.70 841.00,534.40 841.00,540.20 838.30,542.90 832.50,542.90 829.80,540.20 829.80,534.40" fill="#c8c800"/><path d="M835.40 530.70v1.4M835.40 542.50v1.4" stroke="#c8c800" stroke-width="1"/>
<polygon points="884.10,531.70 889.90,531.70 892.60,534.40 892.60,540.20 889.90,542.90 884.10,542.90 881.40,540.20 881.40,534.40" fill="#c8c800"/><path d="M887.00 530.70v1.4M887.00 542.50v1.4" stroke="#c8c800" stroke-width="1"/>
<polygon points="890.60,531.70 896.40,531.70 899.10,534.40 899.10,540.20 896.40,542.90 890.60,542.90 887.90,540.20 887.90,534.40" fill="#c8c800"/><path d="M893.50 530.70v1.4M893.50 542.50v1.4" stroke="#c8c800" stroke-width="1"/>
<polygon points="937.50,531.70 943.30,531.70 946.00,534.40 946.00,540.20 943.30,542.90 937.50,542.90 934.80,540.20 934.80,534.40" fill="#c8c800"/><path d="M940.40 530.70v1.4M940.40 542.50v1.4" stroke="#c8c800" stroke-width="1"/>
<polygon points="943.50,531.70 949.30,531.70 952.00,534.40 952.00,540.20 949.30,542.90 943.50,542.90 940.80,540.20 940.80,534.40" fill="#c8c800"/><path d="M946.40 530.70v1.4M946.40 542.50v1.4" stroke="#c8c800" stroke-width="1"/>
<polygon points="1148.40,531.70 1154.20,531.70 1156.90,534.40 1156.90,540.20 1154.20,542.90 1148.40,542.90 1145.70,540.20 1145.70,534.40" fill="#c8c800"/><path d="M1151.30 530.70v1.4M1151.30 542.50v1.4" stroke="#c8c800" stroke-width="1"/>
<polygon points="990.30,531.70 996.10,531.70 998.80,534.40 998.80,540.20 996.10,542.90 990.30,542.90 987.60,540.20 987.60,534.40" fill="#c8c800"/><path d="M993.20 530.70v1.4M993.20 542.50v1.4" stroke="#c8c800" stroke-width="1"/>
<polygon points="996.70,531.70 1002.50,531.70 1005.20,534.40 1005.20,540.20 1002.50,542.90 996.70,542.90 994.00,540.20 994.00,534.40" fill="#c8c800"/><path d="M999.60 530.70v1.4M999.60 542.50v1.4" stroke="#c8c800" stroke-width="1"/>
<polygon points="1042.40,531.70 1048.20,531.70 1050.90,534.40 1050.90,540.20 1048.20,542.90 1042.40,542.90 1039.70,540.20 1039.70,534.40" fill="#c8c800"/><path d="M1045.30 530.70v1.4M1045.30 542.50v1.4" stroke="#c8c800" stroke-width="1"/>
<polygon points="1049.70,531.70 1055.50,531.70 1058.20,534.40 1058.20,540.20 1055.50,542.90 1049.70,542.90 1047.00,540.20 1047.00,534.40" fill="#c8c800"/><path d="M1052.60 530.70v1.4M1052.60 542.50v1.4" stroke="#c8c800" stroke-width="1"/>
<polygon points="1095.30,531.70 1101.10,531.70 1103.80,534.40 1103.80,540.20 1101.10,542.90 1095.30,542.90 1092.60,540.20 1092.60,534.40" fill="#c8c800"/><path d="M1098.20 530.70v1.4M1098.20 542.50v1.4" stroke="#c8c800" stroke-width="1"/>
<polygon points="1101.30,531.70 1107.10,531.70 1109.80,534.40 1109.80,540.20 1107.10,542.90 1101.30,542.90 1098.60,540.20 1098.60,534.40" fill="#c8c800"/><path d="M1104.20 530.70v1.4M1104.20 542.50v1.4" stroke="#c8c800" stroke-width="1"/>
<polygon points="1154.20,531.70 1160.00,531.70 1162.70,534.40 1162.70,540.20 1160.00,542.90 1154.20,542.90 1151.50,540.20 1151.50,534.40" fill="#c8c800"/><path d="M1157.10 530.70v1.4M1157.10 542.50v1.4" stroke="#c8c800" stroke-width="1"/>
<polygon points="1200.70,531.70 1206.50,531.70 1209.20,534.40 1209.20,540.20 1206.50,542.90 1200.70,542.90 1198.00,540.20 1198.00,534.40" fill="#c8c800"/><path d="M1203.60 530.70v1.4M1203.60 542.50v1.4" stroke="#c8c800" stroke-width="1"/>
<polygon points="1207.40,531.70 1213.20,531.70 1215.90,534.40 1215.90,540.20 1213.20,542.90 1207.40,542.90 1204.70,540.20 1204.70,534.40" fill="#c8c800"/><path d="M1210.30 530.70v1.4M1210.30 542.50v1.4" stroke="#c8c800" stroke-width="1"/>
<polygon points="1253.70,531.70 1259.50,531.70 1262.20,534.40 1262.20,540.20 1259.50,542.90 1253.70,542.90 1251.00,540.20 1251.00,534.40" fill="#c8c800"/><path d="M1256.60 530.70v1.4M1256.60 542.50v1.4" stroke="#c8c800" stroke-width="1"/>
<polygon points="1259.50,531.70 1265.30,531.70 1268.00,534.40 1268.00,540.20 1265.30,542.90 1259.50,542.90 1256.80,540.20 1256.80,534.40" fill="#c8c800"/><path d="M1262.40 530.70v1.4M1262.40 542.50v1.4" stroke="#c8c800" stroke-width="1"/>
<polygon points="1306.60,531.70 1312.40,531.70 1315.10,534.40 1315.10,540.20 1312.40,542.90 1306.60,542.90 1303.90,540.20 1303.90,534.40" fill="#c8c800"/><path d="M1309.50 530.70v1.4M1309.50 542.50v1.4" stroke="#c8c800" stroke-width="1"/>
<polygon points="1312.40,531.70 1318.20,531.70 1320.90,534.40 1320.90,540.20 1318.20,542.90 1312.40,542.90 1309.70,540.20 1309.70,534.40" fill="#c8c800"/><path d="M1315.30 530.70v1.4M1315.30 542.50v1.4" stroke="#c8c800" stroke-width="1"/>
<polygon points="1359.60,531.70 1365.40,531.70 1368.10,534.40 1368.10,540.20 1365.40,542.90 1359.60,542.90 1356.90,540.20 1356.90,534.40" fill="#c8c800"/><path d="M1362.50 530.70v1.4M1362.50 542.50v1.4" stroke="#c8c800" stroke-width="1"/>
</g>
<g id="frame">
<path d="M101.5 57.5H1366.5V539.5H101.5Z" fill="none" stroke="#000" stroke-width="1"/>
</g>
</svg>
</body></html>
